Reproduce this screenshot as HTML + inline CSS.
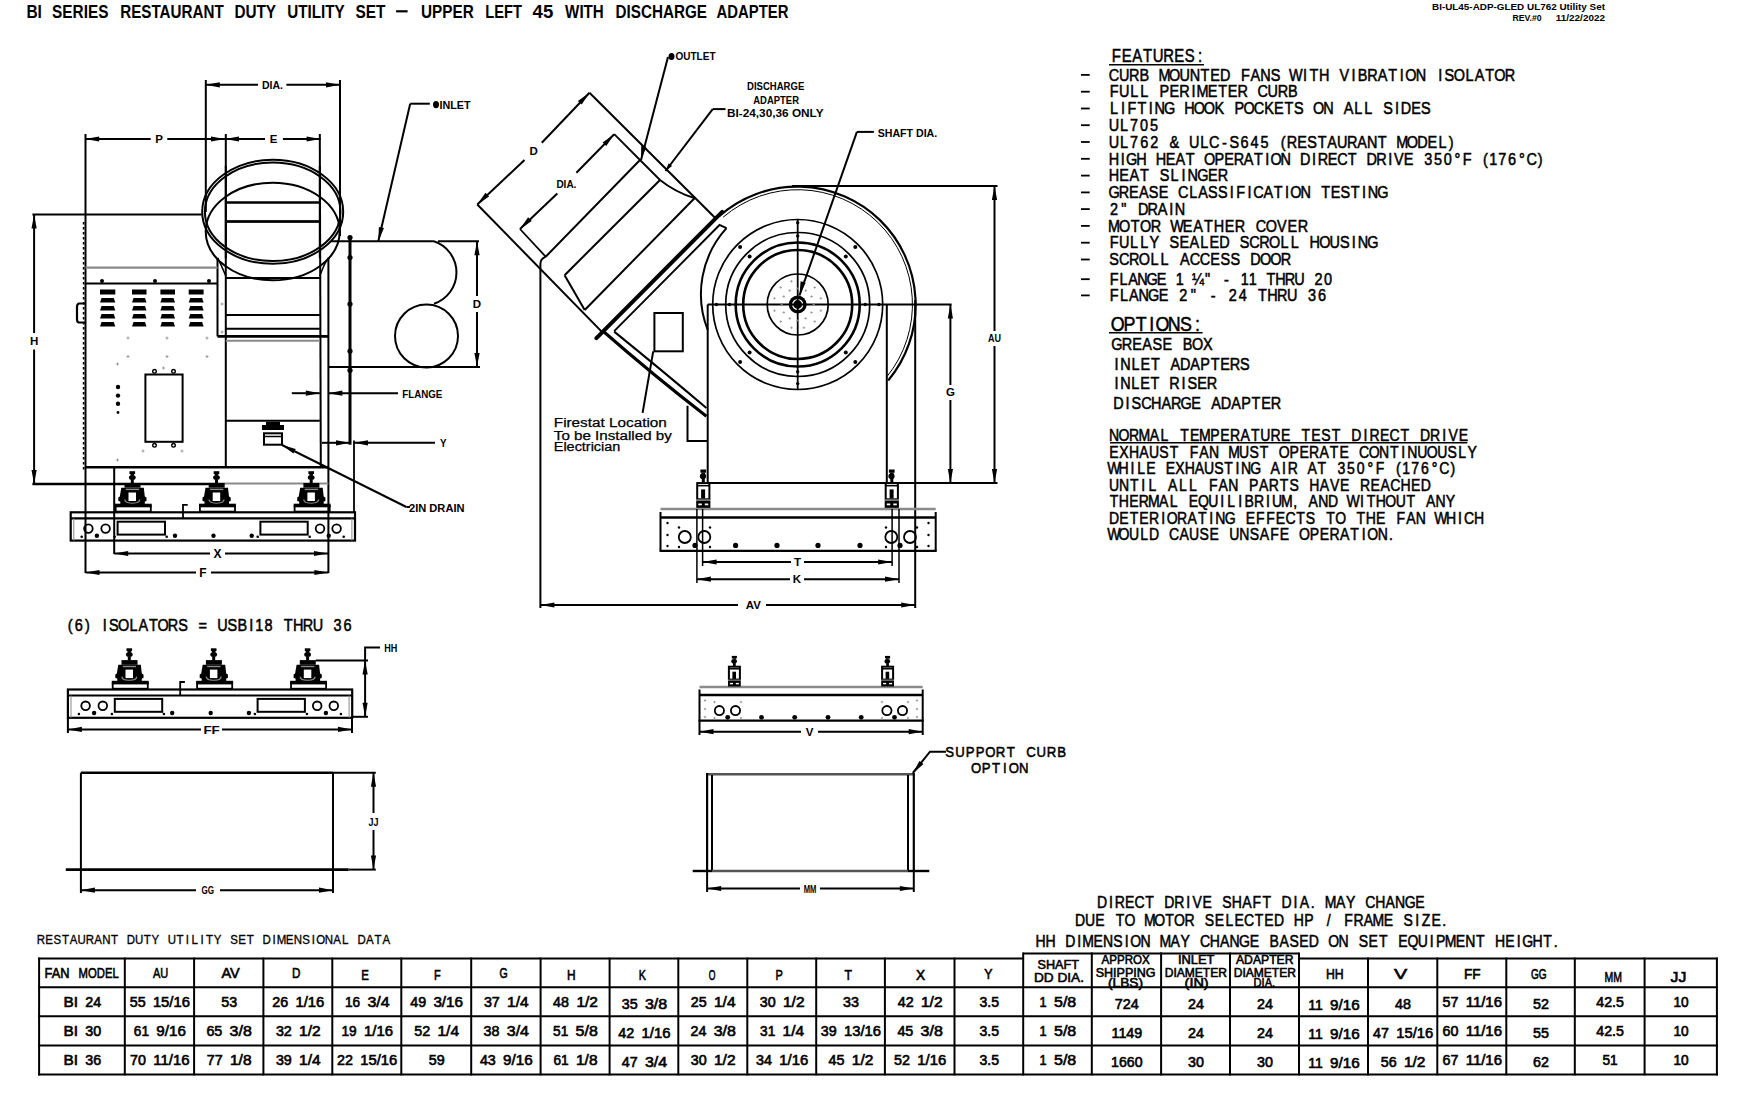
<!DOCTYPE html>
<html><head><meta charset="utf-8"><style>
html,body{margin:0;padding:0;background:#fff;width:1744px;height:1100px;overflow:hidden}
svg{display:block}
text{font-family:"Liberation Sans",sans-serif;fill:#000}
</style></head><body>
<svg width="1744" height="1100" viewBox="0 0 1744 1100" stroke-linecap="butt">
<text x="26.4" y="17.8" font-size="19" textLength="15.5" lengthAdjust="spacingAndGlyphs" font-weight="bold">BI</text>
<text x="52.1" y="17.8" font-size="19" textLength="56.3" lengthAdjust="spacingAndGlyphs" font-weight="bold">SERIES</text>
<text x="120.2" y="17.8" font-size="19" textLength="103.6" lengthAdjust="spacingAndGlyphs" font-weight="bold">RESTAURANT</text>
<text x="234.4" y="17.8" font-size="19" textLength="41.7" lengthAdjust="spacingAndGlyphs" font-weight="bold">DUTY</text>
<text x="287.2" y="17.8" font-size="19" textLength="57.5" lengthAdjust="spacingAndGlyphs" font-weight="bold">UTILITY</text>
<text x="355.6" y="17.8" font-size="19" textLength="29.9" lengthAdjust="spacingAndGlyphs" font-weight="bold">SET</text>
<line x1="396.1" y1="11.3" x2="407.6" y2="11.3" stroke="#000" stroke-width="2.2"/>
<text x="421.1" y="17.8" font-size="19" textLength="52.6" lengthAdjust="spacingAndGlyphs" font-weight="bold">UPPER</text>
<text x="485.3" y="17.8" font-size="19" textLength="36.6" lengthAdjust="spacingAndGlyphs" font-weight="bold">LEFT</text>
<text x="532.6" y="17.8" font-size="19" textLength="20.7" lengthAdjust="spacingAndGlyphs" font-weight="bold">45</text>
<text x="565.1" y="17.8" font-size="19" textLength="38.7" lengthAdjust="spacingAndGlyphs" font-weight="bold">WITH</text>
<text x="615.6" y="17.8" font-size="19" textLength="91.4" lengthAdjust="spacingAndGlyphs" font-weight="bold">DISCHARGE</text>
<text x="716.5" y="17.8" font-size="19" textLength="71.9" lengthAdjust="spacingAndGlyphs" font-weight="bold">ADAPTER</text>
<text x="1432.0" y="9.5" font-size="8.5" textLength="173.0" lengthAdjust="spacingAndGlyphs" font-weight="bold">BI-UL45-ADP-GLED UL762 Utility Set</text>
<text x="1512.4" y="21.0" font-size="8.5" textLength="29.2" lengthAdjust="spacingAndGlyphs" font-weight="bold">REV.#0</text>
<text x="1555.8" y="21.0" font-size="8.5" textLength="49.2" lengthAdjust="spacingAndGlyphs" font-weight="bold">11/22/2022</text>
<text transform="scale(0.85,1)" x="1307.83 1319.68 1332.02 1344.85 1356.21 1368.55 1381.37 1393.71 1409.45" y="62.5" font-size="17.5" stroke="#000" stroke-width="0.55">FEATURES:</text>
<line x1="1109.0" y1="64.7" x2="1204.0" y2="64.7" stroke="#000" stroke-width="1.6"/>
<text transform="scale(0.85,1)" x="1304.54 1316.42 1328.30 1340.65 1363.00 1375.35 1387.70 1399.58 1412.41 1423.81 1435.22 1459.93 1471.33 1482.74 1495.09 1516.50 1532.85 1540.71 1551.65 1575.88 1589.88 1597.26 1608.67 1621.02 1633.38 1646.90 1653.34 1665.69 1692.04 1699.43 1710.37 1724.13 1735.07 1747.42 1757.88 1770.24" y="80.7" font-size="17" stroke="#000" stroke-width="0.55">CURBMOUNTEDFANSWITHVIBRATIONISOLATOR</text>
<line x1="1081.0" y1="74.9" x2="1089.7" y2="74.9" stroke="#000" stroke-width="1.8"/>
<text transform="scale(0.85,1)" x="1305.49 1316.36 1329.60 1341.42 1364.11 1375.93 1387.29 1401.70 1407.62 1420.85 1433.15 1444.49 1455.84 1479.48 1491.30 1503.12 1515.41" y="97.5" font-size="17" stroke="#000" stroke-width="0.55">FULLPERIMETERCURB</text>
<line x1="1081.0" y1="91.7" x2="1089.7" y2="91.7" stroke="#000" stroke-width="1.8"/>
<text transform="scale(0.85,1)" x="1305.96 1318.84 1326.52 1338.20 1351.55 1358.29 1369.50 1393.34 1404.55 1416.24 1428.86 1452.23 1462.97 1475.13 1487.28 1498.96 1511.12 1522.33 1544.76 1556.91 1580.75 1593.38 1605.06 1627.49 1641.31 1648.05 1660.20 1671.88" y="114.3" font-size="17" stroke="#000" stroke-width="0.55">LIFTINGHOOKPOCKETSONALLSIDES</text>
<line x1="1081.0" y1="108.5" x2="1089.7" y2="108.5" stroke="#000" stroke-width="1.8"/>
<text transform="scale(0.85,1)" x="1304.54 1317.67 1329.39 1341.11 1352.83" y="131.0" font-size="17" stroke="#000" stroke-width="0.55">UL705</text>
<line x1="1081.0" y1="125.2" x2="1089.7" y2="125.2" stroke="#000" stroke-width="1.8"/>
<text transform="scale(0.85,1)" x="1304.54 1317.75 1329.54 1341.34 1353.13 1375.78 1398.90 1412.10 1422.49 1437.59 1446.54 1459.28 1471.07 1482.87 1506.88 1513.89 1526.15 1537.95 1550.22 1561.54 1572.86 1584.66 1596.92 1608.24 1620.99 1642.69 1654.95 1667.22 1679.48 1692.22 1704.43" y="147.8" font-size="17" stroke="#000" stroke-width="0.55">UL762&amp;ULC-S645(RESTAURANTMODEL)</text>
<line x1="1081.0" y1="142.0" x2="1089.7" y2="142.0" stroke="#000" stroke-width="1.8"/>
<text transform="scale(0.85,1)" x="1304.54 1318.65 1324.73 1336.68 1359.63 1371.58 1383.05 1395.01 1416.54 1428.96 1440.44 1451.45 1463.39 1475.35 1488.51 1494.58 1506.53 1529.49 1543.59 1550.15 1562.09 1573.10 1585.52 1607.53 1619.01 1633.11 1640.13 1651.61 1675.51 1686.98 1698.46 1711.26 1720.95 1744.83 1752.11 1762.73 1774.21 1787.01 1795.75 1809.10" y="164.6" font-size="17" stroke="#000" stroke-width="0.55">HIGHHEATOPERATIONDIRECTDRIVE350°F(176°C)</text>
<line x1="1081.0" y1="158.8" x2="1089.7" y2="158.8" stroke="#000" stroke-width="1.8"/>
<text transform="scale(0.85,1)" x="1304.54 1316.87 1328.73 1341.06 1364.29 1377.09 1390.13 1397.02 1408.41 1421.20 1432.59" y="181.4" font-size="17" stroke="#000" stroke-width="0.55">HEATSLINGER</text>
<line x1="1081.0" y1="175.6" x2="1089.7" y2="175.6" stroke="#000" stroke-width="1.8"/>
<text transform="scale(0.85,1)" x="1304.07 1316.17 1328.27 1339.90 1351.53 1363.15 1385.94 1398.98 1409.67 1421.29 1432.92 1446.69 1454.33 1467.62 1474.31 1486.41 1498.52 1511.81 1518.03 1530.13 1554.33 1565.48 1577.11 1589.21 1602.51 1609.20 1620.35" y="198.2" font-size="17" stroke="#000" stroke-width="0.55">GREASECLASSIFICATIONTESTING</text>
<line x1="1081.0" y1="192.4" x2="1089.7" y2="192.4" stroke="#000" stroke-width="1.8"/>
<text transform="scale(0.85,1)" x="1305.96 1319.06 1338.72 1350.11 1361.97 1375.53 1382.00" y="214.9" font-size="17" stroke="#000" stroke-width="0.55">2"DRAIN</text>
<line x1="1081.0" y1="209.1" x2="1089.7" y2="209.1" stroke="#000" stroke-width="1.8"/>
<text transform="scale(0.85,1)" x="1303.60 1316.41 1330.18 1341.10 1353.91 1376.71 1391.41 1403.75 1416.57 1427.97 1440.78 1452.65 1477.34 1489.21 1502.49 1514.84 1526.71" y="231.7" font-size="17" stroke="#000" stroke-width="0.55">MOTORWEATHERCOVER</text>
<line x1="1081.0" y1="225.9" x2="1089.7" y2="225.9" stroke="#000" stroke-width="1.8"/>
<text transform="scale(0.85,1)" x="1305.49 1316.35 1329.56 1341.36 1352.22 1375.83 1387.63 1399.44 1412.18 1423.04 1434.38 1458.45 1469.79 1481.59 1492.92 1506.61 1518.41 1540.60 1551.93 1564.21 1576.48 1590.41 1597.26 1608.59" y="248.5" font-size="17" stroke="#000" stroke-width="0.55">FULLYSEALEDSCROLLHOUSING</text>
<line x1="1081.0" y1="242.7" x2="1089.7" y2="242.7" stroke="#000" stroke-width="1.8"/>
<text transform="scale(0.85,1)" x="1305.01 1316.44 1328.33 1339.75 1353.52 1365.42 1388.26 1399.68 1411.57 1423.93 1435.83 1447.72 1471.03 1482.45 1494.34 1506.71" y="265.3" font-size="17" stroke="#000" stroke-width="0.55">SCROLLACCESSDOOR</text>
<line x1="1081.0" y1="259.5" x2="1089.7" y2="259.5" stroke="#000" stroke-width="1.8"/>
<text transform="scale(0.85,1)" x="1305.49 1317.11 1327.33 1338.01 1348.70 1360.79 1383.21 1402.33 1417.56 1440.05 1459.63 1469.12 1490.13 1500.34 1511.49 1522.65 1546.38 1557.53" y="285.0" font-size="17" stroke="#000" stroke-width="0.55">FLANGE1¼"-11THRU20</text>
<line x1="1081.0" y1="279.2" x2="1089.7" y2="279.2" stroke="#000" stroke-width="1.8"/>
<text transform="scale(0.85,1)" x="1305.49 1317.60 1328.30 1339.48 1350.65 1363.23 1387.46 1400.81 1424.29 1445.68 1457.32 1480.15 1490.84 1502.49 1514.13 1538.83 1550.47" y="301.2" font-size="17" stroke="#000" stroke-width="0.55">FLANGE2"-24THRU36</text>
<line x1="1081.0" y1="295.4" x2="1089.7" y2="295.4" stroke="#000" stroke-width="1.8"/>
<text transform="scale(0.85,1)" x="1306.77 1321.76 1336.17 1352.11 1359.30 1373.71 1388.11 1406.02" y="331.3" font-size="21" stroke="#000" stroke-width="0.55">OPTIONS:</text>
<line x1="1109.0" y1="332.7" x2="1202.6" y2="332.7" stroke="#000" stroke-width="1.6"/>
<text transform="scale(0.85,1)" x="1307.25 1319.62 1331.99 1343.89 1355.79 1367.69 1391.49 1402.45 1415.30" y="350.1" font-size="17" stroke="#000" stroke-width="0.55">GREASEBOX</text>
<text transform="scale(0.85,1)" x="1311.27 1318.02 1331.14 1341.90 1354.08 1377.01 1388.25 1400.42 1412.13 1424.31 1435.53 1446.77 1458.94" y="369.8" font-size="17" stroke="#000" stroke-width="0.55">INLETADAPTERS</text>
<text transform="scale(0.85,1)" x="1311.28 1317.91 1330.88 1341.50 1353.54 1375.72 1389.90 1397.00 1408.56 1419.65" y="388.9" font-size="17" stroke="#000" stroke-width="0.55">INLETRISER</text>
<text transform="scale(0.85,1)" x="1309.72 1324.05 1331.29 1342.54 1354.27 1366.46 1377.71 1388.96 1401.63 1425.07 1436.33 1448.52 1460.24 1472.44 1483.69 1494.94" y="409.1" font-size="17" stroke="#000" stroke-width="0.55">DISCHARGEADAPTER</text>
<text transform="scale(0.85,1)" x="1304.58 1316.00 1328.34 1339.31 1352.56 1365.35 1388.66 1400.08 1410.59 1423.83 1435.71 1447.14 1459.47 1471.82 1482.78 1494.66 1506.99 1531.21 1542.63 1554.51 1566.85 1589.69 1604.05 1611.08 1623.41 1634.84 1647.64 1670.48 1682.36 1696.71 1704.19 1716.07" y="441.2" font-size="16.5" stroke="#000" stroke-width="0.55">NORMALTEMPERATURETESTDIRECTDRIVE</text>
<text transform="scale(0.85,1)" x="1305.04 1316.81 1328.13 1340.36 1351.68 1363.91 1376.15 1399.69 1411.00 1422.32 1444.96 1457.64 1469.87 1482.11 1504.28 1516.97 1528.74 1540.06 1552.29 1564.53 1575.84 1598.93 1610.25 1622.48 1635.17 1648.51 1655.45 1667.22 1678.53 1690.77 1703.00 1715.68 1726.54" y="457.8" font-size="16.5" stroke="#000" stroke-width="0.55">EXHAUSTFANMUSTOPERATECONTINUOUSLY</text>
<text transform="scale(0.85,1)" x="1302.75 1316.01 1329.96 1337.95 1348.47 1371.33 1382.75 1393.73 1405.61 1416.59 1428.47 1440.36 1453.40 1460.02 1470.99 1494.76 1508.25 1514.87 1538.19 1550.08 1573.39 1584.82 1596.25 1608.96 1618.65 1642.37 1649.68 1660.25 1671.68 1684.39 1693.16 1706.38" y="474.3" font-size="16.5" stroke="#000" stroke-width="0.55">WHILEEXHAUSTINGAIRAT350°F(176°C)</text>
<text transform="scale(0.85,1)" x="1304.58 1316.49 1329.32 1342.79 1351.21 1374.11 1386.93 1398.84 1422.21 1433.66 1445.11 1469.38 1481.29 1492.75 1505.57 1517.02 1540.38 1552.75 1564.66 1576.57 1599.93 1612.29 1624.20 1635.66 1647.57 1659.93 1671.38" y="490.9" font-size="16.5" stroke="#000" stroke-width="0.55">UNTILALLFANPARTSHAVEREACHED</text>
<text transform="scale(0.85,1)" x="1305.50 1316.28 1328.43 1339.67 1350.45 1363.51 1376.12 1398.59 1409.37 1421.53 1435.72 1443.95 1456.77 1464.08 1475.32 1489.51 1496.37 1507.15 1521.38 1539.51 1550.75 1562.45 1584.01 1600.03 1607.80 1618.58 1629.82 1641.97 1654.58 1677.51 1688.75 1700.90" y="507.4" font-size="16.5" stroke="#000" stroke-width="0.55">THERMALEQUILIBRIUM,ANDWITHOUTANY</text>
<text transform="scale(0.85,1)" x="1304.58 1316.84 1329.10 1340.44 1351.78 1366.07 1372.56 1384.82 1397.08 1409.34 1422.71 1429.66 1441.00 1465.51 1477.78 1489.58 1500.91 1512.26 1524.97 1536.31 1560.37 1570.80 1595.77 1606.65 1618.91 1642.97 1654.31 1665.65 1687.42 1701.05 1715.34 1722.29 1734.09" y="524.0" font-size="16.5" stroke="#000" stroke-width="0.55">DETERIORATINGEFFECTSTOTHEFANWHICH</text>
<text transform="scale(0.85,1)" x="1302.75 1315.92 1328.18 1341.35 1351.78 1375.37 1387.63 1398.97 1411.22 1423.02 1446.16 1457.96 1470.21 1482.01 1494.27 1505.61 1528.29 1541.00 1552.80 1564.14 1576.40 1588.66 1602.02 1608.52 1620.77 1634.17" y="540.5" font-size="16.5" stroke="#000" stroke-width="0.55">WOULDCAUSEUNSAFEOPERATION.</text>
<line x1="1110.0" y1="442.8" x2="1467.3" y2="442.8" stroke="#000" stroke-width="1.6"/>
<text transform="scale(0.85,1)" x="1290.47 1304.64 1311.48 1323.61 1334.83 1347.43 1369.86 1381.54 1395.71 1403.01 1414.69 1438.04 1449.26 1461.39 1473.53 1485.20 1507.64 1521.81 1529.11 1541.95 1558.68 1571.73 1583.40 1606.30 1617.97 1630.10 1641.33 1652.54 1665.13" y="908.3" font-size="16.5" stroke="#000" stroke-width="0.55">DIRECTDRIVESHAFTDIA.MAYCHANGE</text>
<text transform="scale(0.85,1)" x="1264.82 1276.51 1288.67 1312.52 1322.84 1345.78 1357.93 1371.00 1381.32 1393.48 1417.33 1429.02 1441.63 1452.41 1463.66 1476.27 1487.50 1498.74 1522.14 1534.29 1560.89 1581.54 1592.31 1604.47 1614.79 1627.86 1651.25 1664.99 1672.77 1684.00 1696.86" y="926.3" font-size="16.5" stroke="#000" stroke-width="0.55">DUETOMOTORSELECTEDHP/FRAMESIZE.</text>
<text transform="scale(0.85,1)" x="1218.35 1229.99 1253.29 1267.43 1273.34 1286.35 1297.54 1309.64 1323.34 1329.69 1341.80 1364.18 1377.19 1388.84 1411.68 1423.32 1435.42 1446.61 1457.80 1470.36 1493.66 1505.30 1516.95 1528.59 1539.78 1562.62 1574.72 1598.47 1610.12 1622.23 1645.06 1655.79 1667.89 1682.04 1689.31 1699.59 1712.60 1723.80 1736.36 1758.73 1770.84 1784.53 1790.88 1802.99 1815.56 1827.91" y="946.8" font-size="16.5" stroke="#000" stroke-width="0.55">HHDIMENSIONMAYCHANGEBASEDONSETEQUIPMENTHEIGHT.</text>
<text transform="scale(0.85,1)" x="79.57 87.85 99.92 121.03 128.19 138.87 152.38 163.07 175.17 185.38 197.48 209.58 233.54 255.62 267.72 279.34 293.12 300.34 311.10 333.89 344.57 356.20 367.83 392.49 404.12" y="631.4" font-size="17" stroke="#000" stroke-width="0.55">(6)ISOLATORS=USBI18THRU36</text>
<text transform="scale(0.85,1)" x="1112.15 1123.68 1136.08 1148.04 1159.14 1171.54 1184.37 1207.43 1219.39 1231.36 1243.75" y="757.4" font-size="15.5" stroke="#000" stroke-width="0.55">SUPPORTCURB</text>
<text transform="scale(0.85,1)" x="1142.35 1154.89 1167.01 1180.10 1186.74 1198.85" y="772.6" font-size="15.5" stroke="#000" stroke-width="0.55">OPTION</text>
<text transform="scale(0.85,1)" x="43.18 53.19 62.82 72.82 82.07 91.33 100.96 110.96 120.22 130.60 149.11 158.73 169.12 178.37 197.25 207.63 218.55 225.33 235.88 242.30 251.55 270.81 280.44 290.44 308.95 320.62 325.53 336.28 345.54 355.54 366.84 372.13 382.13 392.13 402.51 420.65 430.65 440.66 449.91" y="943.8" font-size="13.5" stroke="#000" stroke-width="0.35">RESTAURANTDUTYUTILITYSETDIMENSIONALDATA</text>
<line x1="38.1" y1="958.6" x2="1023.2" y2="958.6" stroke="#000" stroke-width="2.0"/>
<line x1="1023.2" y1="953.4" x2="1299.0" y2="953.4" stroke="#000" stroke-width="2.0"/>
<line x1="1299.0" y1="958.6" x2="1717.9" y2="958.6" stroke="#000" stroke-width="2.0"/>
<line x1="38.1" y1="987.2" x2="1717.9" y2="987.2" stroke="#000" stroke-width="2.0"/>
<line x1="38.1" y1="1016.3" x2="1717.9" y2="1016.3" stroke="#000" stroke-width="2.0"/>
<line x1="38.1" y1="1045.4" x2="1717.9" y2="1045.4" stroke="#000" stroke-width="2.0"/>
<line x1="38.1" y1="1074.4" x2="1717.9" y2="1074.4" stroke="#000" stroke-width="2.0"/>
<line x1="39.1" y1="957.6" x2="39.1" y2="1075.4" stroke="#000" stroke-width="2.0"/>
<line x1="124.8" y1="957.6" x2="124.8" y2="1075.4" stroke="#000" stroke-width="2.0"/>
<line x1="194.1" y1="957.6" x2="194.1" y2="1075.4" stroke="#000" stroke-width="2.0"/>
<line x1="263.4" y1="957.6" x2="263.4" y2="1075.4" stroke="#000" stroke-width="2.0"/>
<line x1="332.3" y1="957.6" x2="332.3" y2="1075.4" stroke="#000" stroke-width="2.0"/>
<line x1="401.3" y1="957.6" x2="401.3" y2="1075.4" stroke="#000" stroke-width="2.0"/>
<line x1="471.2" y1="957.6" x2="471.2" y2="1075.4" stroke="#000" stroke-width="2.0"/>
<line x1="540.6" y1="957.6" x2="540.6" y2="1075.4" stroke="#000" stroke-width="2.0"/>
<line x1="609.6" y1="957.6" x2="609.6" y2="1075.4" stroke="#000" stroke-width="2.0"/>
<line x1="678.3" y1="957.6" x2="678.3" y2="1075.4" stroke="#000" stroke-width="2.0"/>
<line x1="747.3" y1="957.6" x2="747.3" y2="1075.4" stroke="#000" stroke-width="2.0"/>
<line x1="816.2" y1="957.6" x2="816.2" y2="1075.4" stroke="#000" stroke-width="2.0"/>
<line x1="884.9" y1="957.6" x2="884.9" y2="1075.4" stroke="#000" stroke-width="2.0"/>
<line x1="954.5" y1="957.6" x2="954.5" y2="1075.4" stroke="#000" stroke-width="2.0"/>
<line x1="1023.2" y1="952.4" x2="1023.2" y2="1075.4" stroke="#000" stroke-width="2.0"/>
<line x1="1091.8" y1="952.4" x2="1091.8" y2="1075.4" stroke="#000" stroke-width="2.0"/>
<line x1="1161.1" y1="952.4" x2="1161.1" y2="1075.4" stroke="#000" stroke-width="2.0"/>
<line x1="1230.0" y1="952.4" x2="1230.0" y2="1075.4" stroke="#000" stroke-width="2.0"/>
<line x1="1299.0" y1="952.4" x2="1299.0" y2="1075.4" stroke="#000" stroke-width="2.0"/>
<line x1="1368.0" y1="957.6" x2="1368.0" y2="1075.4" stroke="#000" stroke-width="2.0"/>
<line x1="1437.3" y1="957.6" x2="1437.3" y2="1075.4" stroke="#000" stroke-width="2.0"/>
<line x1="1506.3" y1="957.6" x2="1506.3" y2="1075.4" stroke="#000" stroke-width="2.0"/>
<line x1="1574.8" y1="957.6" x2="1574.8" y2="1075.4" stroke="#000" stroke-width="2.0"/>
<line x1="1644.6" y1="957.6" x2="1644.6" y2="1075.4" stroke="#000" stroke-width="2.0"/>
<line x1="1716.9" y1="957.6" x2="1716.9" y2="1075.4" stroke="#000" stroke-width="2.0"/>
<text x="44.6" y="978.4" font-size="14" textLength="24.9" lengthAdjust="spacingAndGlyphs" stroke="#000" stroke-width="0.6">FAN</text>
<text x="78.6" y="978.4" font-size="14" textLength="40.1" lengthAdjust="spacingAndGlyphs" stroke="#000" stroke-width="0.6">MODEL</text>
<text x="153.0" y="978.4" font-size="14" textLength="15.3" lengthAdjust="spacingAndGlyphs" stroke="#000" stroke-width="0.6">AU</text>
<text x="221.4" y="978.4" font-size="14" textLength="18.3" lengthAdjust="spacingAndGlyphs" stroke="#000" stroke-width="0.6">AV</text>
<text x="292.0" y="978.4" font-size="14" textLength="8.4" lengthAdjust="spacingAndGlyphs" stroke="#000" stroke-width="0.6">D</text>
<text x="361.2" y="979.5" font-size="14" textLength="7.6" lengthAdjust="spacingAndGlyphs" stroke="#000" stroke-width="0.6">E</text>
<text x="434.1" y="979.5" font-size="14" textLength="6.7" lengthAdjust="spacingAndGlyphs" stroke="#000" stroke-width="0.6">F</text>
<text x="499.5" y="978.4" font-size="14" textLength="8.2" lengthAdjust="spacingAndGlyphs" stroke="#000" stroke-width="0.6">G</text>
<text x="567.0" y="980.0" font-size="14" textLength="8.6" lengthAdjust="spacingAndGlyphs" stroke="#000" stroke-width="0.6">H</text>
<text x="638.8" y="980.0" font-size="14" textLength="7.2" lengthAdjust="spacingAndGlyphs" stroke="#000" stroke-width="0.6">K</text>
<text x="708.7" y="980.0" font-size="14" textLength="6.7" lengthAdjust="spacingAndGlyphs" stroke="#000" stroke-width="0.6">O</text>
<text x="775.5" y="980.0" font-size="14" textLength="7.3" lengthAdjust="spacingAndGlyphs" stroke="#000" stroke-width="0.6">P</text>
<text x="844.5" y="980.0" font-size="14" textLength="7.5" lengthAdjust="spacingAndGlyphs" stroke="#000" stroke-width="0.6">T</text>
<text x="915.9" y="980.0" font-size="14" textLength="9.1" lengthAdjust="spacingAndGlyphs" stroke="#000" stroke-width="0.6">X</text>
<text x="984.3" y="978.5" font-size="14" textLength="8.2" lengthAdjust="spacingAndGlyphs" stroke="#000" stroke-width="0.6">Y</text>
<text x="1325.9" y="978.8" font-size="14" textLength="17.7" lengthAdjust="spacingAndGlyphs" stroke="#000" stroke-width="0.6">HH</text>
<text x="1394.0" y="978.8" font-size="14" textLength="13.2" lengthAdjust="spacingAndGlyphs" stroke="#000" stroke-width="0.6">V</text>
<text x="1464.0" y="978.8" font-size="14" textLength="16.7" lengthAdjust="spacingAndGlyphs" stroke="#000" stroke-width="0.6">FF</text>
<text x="1531.0" y="978.8" font-size="14" textLength="15.7" lengthAdjust="spacingAndGlyphs" stroke="#000" stroke-width="0.6">GG</text>
<text x="1604.5" y="981.5" font-size="14" textLength="17.5" lengthAdjust="spacingAndGlyphs" stroke="#000" stroke-width="0.6">MM</text>
<text x="1670.6" y="981.5" font-size="14" textLength="15.7" lengthAdjust="spacingAndGlyphs" stroke="#000" stroke-width="0.6">JJ</text>
<text x="1037.5" y="968.6" font-size="13.5" textLength="41.5" lengthAdjust="spacingAndGlyphs" stroke="#000" stroke-width="0.6">SHAFT</text>
<text x="1034.0" y="981.9" font-size="13.5" textLength="50.0" lengthAdjust="spacingAndGlyphs" stroke="#000" stroke-width="0.6">DD DIA.</text>
<text x="1101.5" y="964.1" font-size="12.5" textLength="48.2" lengthAdjust="spacingAndGlyphs" stroke="#000" stroke-width="0.6">APPROX</text>
<text x="1095.7" y="976.6" font-size="12.5" textLength="59.8" lengthAdjust="spacingAndGlyphs" stroke="#000" stroke-width="0.6">SHIPPING</text>
<text x="1108.0" y="986.5" font-size="12.5" textLength="35.0" lengthAdjust="spacingAndGlyphs" stroke="#000" stroke-width="0.6">(LBS)</text>
<text x="1178.0" y="964.1" font-size="12.5" textLength="36.5" lengthAdjust="spacingAndGlyphs" stroke="#000" stroke-width="0.6">INLET</text>
<text x="1164.7" y="976.6" font-size="12.5" textLength="62.3" lengthAdjust="spacingAndGlyphs" stroke="#000" stroke-width="0.6">DIAMETER</text>
<text x="1184.6" y="986.5" font-size="12.5" textLength="24.1" lengthAdjust="spacingAndGlyphs" stroke="#000" stroke-width="0.6">(IN)</text>
<text x="1236.0" y="964.1" font-size="12.5" textLength="57.5" lengthAdjust="spacingAndGlyphs" stroke="#000" stroke-width="0.6">ADAPTER</text>
<text x="1233.7" y="976.6" font-size="12.5" textLength="62.3" lengthAdjust="spacingAndGlyphs" stroke="#000" stroke-width="0.6">DIAMETER</text>
<text x="1253.6" y="986.5" font-size="12.5" textLength="21.6" lengthAdjust="spacingAndGlyphs" stroke="#000" stroke-width="0.6">DIA.</text>
<text x="63.5" y="1007.0" font-size="14" textLength="14.5" lengthAdjust="spacingAndGlyphs" stroke="#000" stroke-width="0.6">BI</text>
<text x="85.3" y="1007.0" font-size="14" textLength="15.9" lengthAdjust="spacingAndGlyphs" stroke="#000" stroke-width="0.6">24</text>
<text x="129.8" y="1007.0" font-size="14" textLength="15.9" lengthAdjust="spacingAndGlyphs" stroke="#000" stroke-width="0.6">55</text>
<text x="152.9" y="1007.0" font-size="14" textLength="37.0" lengthAdjust="spacingAndGlyphs" stroke="#000" stroke-width="0.6">15/16</text>
<text x="221.2" y="1007.0" font-size="14" textLength="15.9" lengthAdjust="spacingAndGlyphs" stroke="#000" stroke-width="0.6">53</text>
<text x="272.2" y="1007.0" font-size="14" textLength="15.9" lengthAdjust="spacingAndGlyphs" stroke="#000" stroke-width="0.6">26</text>
<text x="295.4" y="1007.0" font-size="14" textLength="28.9" lengthAdjust="spacingAndGlyphs" stroke="#000" stroke-width="0.6">1/16</text>
<text x="344.9" y="1007.0" font-size="14" textLength="15.2" lengthAdjust="spacingAndGlyphs" stroke="#000" stroke-width="0.6">16</text>
<text x="367.4" y="1007.0" font-size="14" textLength="22.2" lengthAdjust="spacingAndGlyphs" stroke="#000" stroke-width="0.6">3/4</text>
<text x="410.2" y="1007.0" font-size="14" textLength="15.9" lengthAdjust="spacingAndGlyphs" stroke="#000" stroke-width="0.6">49</text>
<text x="433.4" y="1007.0" font-size="14" textLength="29.6" lengthAdjust="spacingAndGlyphs" stroke="#000" stroke-width="0.6">3/16</text>
<text x="483.9" y="1007.0" font-size="14" textLength="15.9" lengthAdjust="spacingAndGlyphs" stroke="#000" stroke-width="0.6">37</text>
<text x="507.1" y="1007.0" font-size="14" textLength="21.5" lengthAdjust="spacingAndGlyphs" stroke="#000" stroke-width="0.6">1/4</text>
<text x="553.1" y="1007.0" font-size="14" textLength="15.9" lengthAdjust="spacingAndGlyphs" stroke="#000" stroke-width="0.6">48</text>
<text x="576.4" y="1007.0" font-size="14" textLength="21.5" lengthAdjust="spacingAndGlyphs" stroke="#000" stroke-width="0.6">1/2</text>
<text x="621.7" y="1009.0" font-size="14" textLength="15.9" lengthAdjust="spacingAndGlyphs" stroke="#000" stroke-width="0.6">35</text>
<text x="644.9" y="1009.0" font-size="14" textLength="22.2" lengthAdjust="spacingAndGlyphs" stroke="#000" stroke-width="0.6">3/8</text>
<text x="690.8" y="1007.0" font-size="14" textLength="15.9" lengthAdjust="spacingAndGlyphs" stroke="#000" stroke-width="0.6">25</text>
<text x="714.0" y="1007.0" font-size="14" textLength="21.5" lengthAdjust="spacingAndGlyphs" stroke="#000" stroke-width="0.6">1/4</text>
<text x="759.8" y="1007.0" font-size="14" textLength="15.9" lengthAdjust="spacingAndGlyphs" stroke="#000" stroke-width="0.6">30</text>
<text x="783.0" y="1007.0" font-size="14" textLength="21.5" lengthAdjust="spacingAndGlyphs" stroke="#000" stroke-width="0.6">1/2</text>
<text x="843.0" y="1007.0" font-size="14" textLength="15.9" lengthAdjust="spacingAndGlyphs" stroke="#000" stroke-width="0.6">33</text>
<text x="897.8" y="1007.0" font-size="14" textLength="15.9" lengthAdjust="spacingAndGlyphs" stroke="#000" stroke-width="0.6">42</text>
<text x="921.0" y="1007.0" font-size="14" textLength="21.5" lengthAdjust="spacingAndGlyphs" stroke="#000" stroke-width="0.6">1/2</text>
<text x="979.5" y="1007.0" font-size="14" textLength="19.5" lengthAdjust="spacingAndGlyphs" stroke="#000" stroke-width="0.6">3.5</text>
<text x="1039.6" y="1007.0" font-size="14" textLength="7.1" lengthAdjust="spacingAndGlyphs" stroke="#000" stroke-width="0.6">1</text>
<text x="1054.0" y="1007.0" font-size="14" textLength="22.2" lengthAdjust="spacingAndGlyphs" stroke="#000" stroke-width="0.6">5/8</text>
<text x="1114.8" y="1008.5" font-size="14" textLength="24.0" lengthAdjust="spacingAndGlyphs" stroke="#000" stroke-width="0.6">724</text>
<text x="1188.0" y="1009.0" font-size="14" textLength="15.9" lengthAdjust="spacingAndGlyphs" stroke="#000" stroke-width="0.6">24</text>
<text x="1257.0" y="1009.0" font-size="14" textLength="15.9" lengthAdjust="spacingAndGlyphs" stroke="#000" stroke-width="0.6">24</text>
<text x="1308.2" y="1009.5" font-size="14" textLength="14.5" lengthAdjust="spacingAndGlyphs" stroke="#000" stroke-width="0.6">11</text>
<text x="1330.0" y="1009.5" font-size="14" textLength="29.6" lengthAdjust="spacingAndGlyphs" stroke="#000" stroke-width="0.6">9/16</text>
<text x="1395.1" y="1008.5" font-size="14" textLength="15.9" lengthAdjust="spacingAndGlyphs" stroke="#000" stroke-width="0.6">48</text>
<text x="1442.5" y="1007.0" font-size="14" textLength="15.9" lengthAdjust="spacingAndGlyphs" stroke="#000" stroke-width="0.6">57</text>
<text x="1465.7" y="1007.0" font-size="14" textLength="36.3" lengthAdjust="spacingAndGlyphs" stroke="#000" stroke-width="0.6">11/16</text>
<text x="1533.0" y="1009.0" font-size="14" textLength="15.9" lengthAdjust="spacingAndGlyphs" stroke="#000" stroke-width="0.6">52</text>
<text x="1596.3" y="1007.0" font-size="14" textLength="27.6" lengthAdjust="spacingAndGlyphs" stroke="#000" stroke-width="0.6">42.5</text>
<text x="1673.5" y="1007.0" font-size="14" textLength="15.2" lengthAdjust="spacingAndGlyphs" stroke="#000" stroke-width="0.6">10</text>
<text x="63.5" y="1036.0" font-size="14" textLength="14.5" lengthAdjust="spacingAndGlyphs" stroke="#000" stroke-width="0.6">BI</text>
<text x="85.3" y="1036.0" font-size="14" textLength="15.9" lengthAdjust="spacingAndGlyphs" stroke="#000" stroke-width="0.6">30</text>
<text x="133.8" y="1036.0" font-size="14" textLength="15.2" lengthAdjust="spacingAndGlyphs" stroke="#000" stroke-width="0.6">61</text>
<text x="156.3" y="1036.0" font-size="14" textLength="29.6" lengthAdjust="spacingAndGlyphs" stroke="#000" stroke-width="0.6">9/16</text>
<text x="206.4" y="1036.0" font-size="14" textLength="15.9" lengthAdjust="spacingAndGlyphs" stroke="#000" stroke-width="0.6">65</text>
<text x="229.6" y="1036.0" font-size="14" textLength="22.2" lengthAdjust="spacingAndGlyphs" stroke="#000" stroke-width="0.6">3/8</text>
<text x="275.9" y="1036.0" font-size="14" textLength="15.9" lengthAdjust="spacingAndGlyphs" stroke="#000" stroke-width="0.6">32</text>
<text x="299.1" y="1036.0" font-size="14" textLength="21.5" lengthAdjust="spacingAndGlyphs" stroke="#000" stroke-width="0.6">1/2</text>
<text x="341.5" y="1036.0" font-size="14" textLength="15.2" lengthAdjust="spacingAndGlyphs" stroke="#000" stroke-width="0.6">19</text>
<text x="364.0" y="1036.0" font-size="14" textLength="28.9" lengthAdjust="spacingAndGlyphs" stroke="#000" stroke-width="0.6">1/16</text>
<text x="414.3" y="1036.0" font-size="14" textLength="15.9" lengthAdjust="spacingAndGlyphs" stroke="#000" stroke-width="0.6">52</text>
<text x="437.5" y="1036.0" font-size="14" textLength="21.5" lengthAdjust="spacingAndGlyphs" stroke="#000" stroke-width="0.6">1/4</text>
<text x="483.6" y="1036.0" font-size="14" textLength="15.9" lengthAdjust="spacingAndGlyphs" stroke="#000" stroke-width="0.6">38</text>
<text x="506.8" y="1036.0" font-size="14" textLength="22.2" lengthAdjust="spacingAndGlyphs" stroke="#000" stroke-width="0.6">3/4</text>
<text x="553.1" y="1036.0" font-size="14" textLength="15.2" lengthAdjust="spacingAndGlyphs" stroke="#000" stroke-width="0.6">51</text>
<text x="575.6" y="1036.0" font-size="14" textLength="22.2" lengthAdjust="spacingAndGlyphs" stroke="#000" stroke-width="0.6">5/8</text>
<text x="618.3" y="1038.0" font-size="14" textLength="15.9" lengthAdjust="spacingAndGlyphs" stroke="#000" stroke-width="0.6">42</text>
<text x="641.5" y="1038.0" font-size="14" textLength="28.9" lengthAdjust="spacingAndGlyphs" stroke="#000" stroke-width="0.6">1/16</text>
<text x="690.5" y="1036.0" font-size="14" textLength="15.9" lengthAdjust="spacingAndGlyphs" stroke="#000" stroke-width="0.6">24</text>
<text x="713.7" y="1036.0" font-size="14" textLength="22.2" lengthAdjust="spacingAndGlyphs" stroke="#000" stroke-width="0.6">3/8</text>
<text x="760.1" y="1036.0" font-size="14" textLength="15.2" lengthAdjust="spacingAndGlyphs" stroke="#000" stroke-width="0.6">31</text>
<text x="782.6" y="1036.0" font-size="14" textLength="21.5" lengthAdjust="spacingAndGlyphs" stroke="#000" stroke-width="0.6">1/4</text>
<text x="820.8" y="1036.0" font-size="14" textLength="15.9" lengthAdjust="spacingAndGlyphs" stroke="#000" stroke-width="0.6">39</text>
<text x="844.0" y="1036.0" font-size="14" textLength="37.0" lengthAdjust="spacingAndGlyphs" stroke="#000" stroke-width="0.6">13/16</text>
<text x="897.4" y="1036.0" font-size="14" textLength="15.9" lengthAdjust="spacingAndGlyphs" stroke="#000" stroke-width="0.6">45</text>
<text x="920.6" y="1036.0" font-size="14" textLength="22.2" lengthAdjust="spacingAndGlyphs" stroke="#000" stroke-width="0.6">3/8</text>
<text x="979.5" y="1036.0" font-size="14" textLength="19.5" lengthAdjust="spacingAndGlyphs" stroke="#000" stroke-width="0.6">3.5</text>
<text x="1039.6" y="1036.0" font-size="14" textLength="7.1" lengthAdjust="spacingAndGlyphs" stroke="#000" stroke-width="0.6">1</text>
<text x="1054.0" y="1036.0" font-size="14" textLength="22.2" lengthAdjust="spacingAndGlyphs" stroke="#000" stroke-width="0.6">5/8</text>
<text x="1111.5" y="1037.5" font-size="14" textLength="30.7" lengthAdjust="spacingAndGlyphs" stroke="#000" stroke-width="0.6">1149</text>
<text x="1188.0" y="1038.0" font-size="14" textLength="15.9" lengthAdjust="spacingAndGlyphs" stroke="#000" stroke-width="0.6">24</text>
<text x="1257.0" y="1038.0" font-size="14" textLength="15.9" lengthAdjust="spacingAndGlyphs" stroke="#000" stroke-width="0.6">24</text>
<text x="1308.2" y="1038.5" font-size="14" textLength="14.5" lengthAdjust="spacingAndGlyphs" stroke="#000" stroke-width="0.6">11</text>
<text x="1330.0" y="1038.5" font-size="14" textLength="29.6" lengthAdjust="spacingAndGlyphs" stroke="#000" stroke-width="0.6">9/16</text>
<text x="1373.0" y="1037.5" font-size="14" textLength="15.9" lengthAdjust="spacingAndGlyphs" stroke="#000" stroke-width="0.6">47</text>
<text x="1396.2" y="1037.5" font-size="14" textLength="37.0" lengthAdjust="spacingAndGlyphs" stroke="#000" stroke-width="0.6">15/16</text>
<text x="1442.5" y="1036.0" font-size="14" textLength="15.9" lengthAdjust="spacingAndGlyphs" stroke="#000" stroke-width="0.6">60</text>
<text x="1465.7" y="1036.0" font-size="14" textLength="36.3" lengthAdjust="spacingAndGlyphs" stroke="#000" stroke-width="0.6">11/16</text>
<text x="1533.0" y="1038.0" font-size="14" textLength="15.9" lengthAdjust="spacingAndGlyphs" stroke="#000" stroke-width="0.6">55</text>
<text x="1596.3" y="1036.0" font-size="14" textLength="27.6" lengthAdjust="spacingAndGlyphs" stroke="#000" stroke-width="0.6">42.5</text>
<text x="1673.5" y="1036.0" font-size="14" textLength="15.2" lengthAdjust="spacingAndGlyphs" stroke="#000" stroke-width="0.6">10</text>
<text x="63.5" y="1065.1" font-size="14" textLength="14.5" lengthAdjust="spacingAndGlyphs" stroke="#000" stroke-width="0.6">BI</text>
<text x="85.3" y="1065.1" font-size="14" textLength="15.9" lengthAdjust="spacingAndGlyphs" stroke="#000" stroke-width="0.6">36</text>
<text x="130.1" y="1065.1" font-size="14" textLength="15.9" lengthAdjust="spacingAndGlyphs" stroke="#000" stroke-width="0.6">70</text>
<text x="153.3" y="1065.1" font-size="14" textLength="36.3" lengthAdjust="spacingAndGlyphs" stroke="#000" stroke-width="0.6">11/16</text>
<text x="206.8" y="1065.1" font-size="14" textLength="15.9" lengthAdjust="spacingAndGlyphs" stroke="#000" stroke-width="0.6">77</text>
<text x="230.0" y="1065.1" font-size="14" textLength="21.5" lengthAdjust="spacingAndGlyphs" stroke="#000" stroke-width="0.6">1/8</text>
<text x="275.9" y="1065.1" font-size="14" textLength="15.9" lengthAdjust="spacingAndGlyphs" stroke="#000" stroke-width="0.6">39</text>
<text x="299.1" y="1065.1" font-size="14" textLength="21.5" lengthAdjust="spacingAndGlyphs" stroke="#000" stroke-width="0.6">1/4</text>
<text x="337.1" y="1065.1" font-size="14" textLength="15.9" lengthAdjust="spacingAndGlyphs" stroke="#000" stroke-width="0.6">22</text>
<text x="360.3" y="1065.1" font-size="14" textLength="37.0" lengthAdjust="spacingAndGlyphs" stroke="#000" stroke-width="0.6">15/16</text>
<text x="428.7" y="1065.1" font-size="14" textLength="15.9" lengthAdjust="spacingAndGlyphs" stroke="#000" stroke-width="0.6">59</text>
<text x="479.9" y="1065.1" font-size="14" textLength="15.9" lengthAdjust="spacingAndGlyphs" stroke="#000" stroke-width="0.6">43</text>
<text x="503.1" y="1065.1" font-size="14" textLength="29.6" lengthAdjust="spacingAndGlyphs" stroke="#000" stroke-width="0.6">9/16</text>
<text x="553.5" y="1065.1" font-size="14" textLength="15.2" lengthAdjust="spacingAndGlyphs" stroke="#000" stroke-width="0.6">61</text>
<text x="576.0" y="1065.1" font-size="14" textLength="21.5" lengthAdjust="spacingAndGlyphs" stroke="#000" stroke-width="0.6">1/8</text>
<text x="621.7" y="1067.1" font-size="14" textLength="15.9" lengthAdjust="spacingAndGlyphs" stroke="#000" stroke-width="0.6">47</text>
<text x="644.9" y="1067.1" font-size="14" textLength="22.2" lengthAdjust="spacingAndGlyphs" stroke="#000" stroke-width="0.6">3/4</text>
<text x="690.8" y="1065.1" font-size="14" textLength="15.9" lengthAdjust="spacingAndGlyphs" stroke="#000" stroke-width="0.6">30</text>
<text x="714.0" y="1065.1" font-size="14" textLength="21.5" lengthAdjust="spacingAndGlyphs" stroke="#000" stroke-width="0.6">1/2</text>
<text x="756.1" y="1065.1" font-size="14" textLength="15.9" lengthAdjust="spacingAndGlyphs" stroke="#000" stroke-width="0.6">34</text>
<text x="779.3" y="1065.1" font-size="14" textLength="28.9" lengthAdjust="spacingAndGlyphs" stroke="#000" stroke-width="0.6">1/16</text>
<text x="828.6" y="1065.1" font-size="14" textLength="15.9" lengthAdjust="spacingAndGlyphs" stroke="#000" stroke-width="0.6">45</text>
<text x="851.8" y="1065.1" font-size="14" textLength="21.5" lengthAdjust="spacingAndGlyphs" stroke="#000" stroke-width="0.6">1/2</text>
<text x="894.1" y="1065.1" font-size="14" textLength="15.9" lengthAdjust="spacingAndGlyphs" stroke="#000" stroke-width="0.6">52</text>
<text x="917.3" y="1065.1" font-size="14" textLength="28.9" lengthAdjust="spacingAndGlyphs" stroke="#000" stroke-width="0.6">1/16</text>
<text x="979.5" y="1065.1" font-size="14" textLength="19.5" lengthAdjust="spacingAndGlyphs" stroke="#000" stroke-width="0.6">3.5</text>
<text x="1039.6" y="1065.1" font-size="14" textLength="7.1" lengthAdjust="spacingAndGlyphs" stroke="#000" stroke-width="0.6">1</text>
<text x="1054.0" y="1065.1" font-size="14" textLength="22.2" lengthAdjust="spacingAndGlyphs" stroke="#000" stroke-width="0.6">5/8</text>
<text x="1111.1" y="1066.6" font-size="14" textLength="31.4" lengthAdjust="spacingAndGlyphs" stroke="#000" stroke-width="0.6">1660</text>
<text x="1188.0" y="1067.1" font-size="14" textLength="15.9" lengthAdjust="spacingAndGlyphs" stroke="#000" stroke-width="0.6">30</text>
<text x="1257.0" y="1067.1" font-size="14" textLength="15.9" lengthAdjust="spacingAndGlyphs" stroke="#000" stroke-width="0.6">30</text>
<text x="1308.2" y="1067.6" font-size="14" textLength="14.5" lengthAdjust="spacingAndGlyphs" stroke="#000" stroke-width="0.6">11</text>
<text x="1330.0" y="1067.6" font-size="14" textLength="29.6" lengthAdjust="spacingAndGlyphs" stroke="#000" stroke-width="0.6">9/16</text>
<text x="1380.7" y="1066.6" font-size="14" textLength="15.9" lengthAdjust="spacingAndGlyphs" stroke="#000" stroke-width="0.6">56</text>
<text x="1403.9" y="1066.6" font-size="14" textLength="21.5" lengthAdjust="spacingAndGlyphs" stroke="#000" stroke-width="0.6">1/2</text>
<text x="1442.5" y="1065.1" font-size="14" textLength="15.9" lengthAdjust="spacingAndGlyphs" stroke="#000" stroke-width="0.6">67</text>
<text x="1465.7" y="1065.1" font-size="14" textLength="36.3" lengthAdjust="spacingAndGlyphs" stroke="#000" stroke-width="0.6">11/16</text>
<text x="1533.0" y="1067.1" font-size="14" textLength="15.9" lengthAdjust="spacingAndGlyphs" stroke="#000" stroke-width="0.6">62</text>
<text x="1602.5" y="1065.1" font-size="14" textLength="15.2" lengthAdjust="spacingAndGlyphs" stroke="#000" stroke-width="0.6">51</text>
<text x="1673.5" y="1065.1" font-size="14" textLength="15.2" lengthAdjust="spacingAndGlyphs" stroke="#000" stroke-width="0.6">10</text>
<line x1="205.8" y1="80.0" x2="205.8" y2="212.0" stroke="#000" stroke-width="2.0"/>
<line x1="340.0" y1="80.0" x2="340.0" y2="236.0" stroke="#000" stroke-width="2.0"/>
<line x1="205.8" y1="84.8" x2="258.0" y2="84.8" stroke="#000" stroke-width="2.0"/>
<line x1="286.4" y1="84.8" x2="340.0" y2="84.8" stroke="#000" stroke-width="2.0"/>
<polygon points="205.8,84.8 219.8,82.2 219.8,87.4" fill="#000"/>
<polygon points="340.0,84.8 326.0,87.4 326.0,82.2" fill="#000"/>
<text x="272.4" y="88.9" font-size="11.5" text-anchor="middle" textLength="21.0" lengthAdjust="spacingAndGlyphs" font-weight="bold">DIA.</text>
<line x1="85.2" y1="139.0" x2="150.7" y2="139.0" stroke="#000" stroke-width="2.0"/>
<line x1="167.3" y1="139.0" x2="225.0" y2="139.0" stroke="#000" stroke-width="2.0"/>
<polygon points="85.2,139.0 99.2,136.4 99.2,141.6" fill="#000"/>
<polygon points="225.0,139.0 211.0,141.6 211.0,136.4" fill="#000"/>
<text x="159.0" y="143.1" font-size="11.5" text-anchor="middle" font-weight="bold">P</text>
<line x1="225.0" y1="139.0" x2="265.0" y2="139.0" stroke="#000" stroke-width="2.0"/>
<line x1="282.9" y1="139.0" x2="320.6" y2="139.0" stroke="#000" stroke-width="2.0"/>
<polygon points="225.0,139.0 239.0,136.4 239.0,141.6" fill="#000"/>
<polygon points="320.6,139.0 306.6,141.6 306.6,136.4" fill="#000"/>
<text x="273.5" y="143.1" font-size="11.5" text-anchor="middle" font-weight="bold">E</text>
<line x1="85.5" y1="134.0" x2="85.5" y2="573.0" stroke="#000" stroke-width="2"/>
<line x1="83.6" y1="222" x2="83.6" y2="470" stroke="#000" stroke-width="1.6" stroke-dasharray="2.5,2.5"/>
<line x1="225.8" y1="134.0" x2="225.8" y2="467.3" stroke="#000" stroke-width="2"/>
<line x1="319.8" y1="134.0" x2="320.8" y2="467.3" stroke="#000" stroke-width="2"/>
<line x1="328.4" y1="258.0" x2="328.4" y2="573.0" stroke="#000" stroke-width="2"/>
<line x1="217.5" y1="258.0" x2="217.5" y2="336.4" stroke="#000" stroke-width="2"/>
<line x1="32.4" y1="214.5" x2="201.8" y2="214.5" stroke="#000" stroke-width="2"/>
<line x1="85.5" y1="267.6" x2="217.5" y2="267.6" stroke="#8a8a8a" stroke-width="2.2"/>
<line x1="85.5" y1="283.6" x2="217.5" y2="283.6" stroke="#000" stroke-width="2"/>
<circle cx="102.0" cy="281.0" r="2.0" stroke="#000" stroke-width="0" fill="#000"/>
<circle cx="155.0" cy="281.0" r="2.0" stroke="#000" stroke-width="0" fill="#000"/>
<circle cx="209.0" cy="281.0" r="2.0" stroke="#000" stroke-width="0" fill="#000"/>
<rect x="100.0" y="289.5" width="15.3" height="5.0" fill="#000"/>
<polygon points="101.5,298.0 113.8,298.0 115.3,302.5 100.0,302.5" stroke="#000" stroke-width="0" fill="#000"/>
<polygon points="101.5,306.0 113.8,306.0 115.3,310.5 100.0,310.5" stroke="#000" stroke-width="0" fill="#000"/>
<polygon points="101.5,314.0 113.8,314.0 115.3,318.5 100.0,318.5" stroke="#000" stroke-width="0" fill="#000"/>
<polygon points="101.5,322.0 113.8,322.0 115.3,326.5 100.0,326.5" stroke="#000" stroke-width="0" fill="#000"/>
<rect x="132.0" y="289.5" width="14.5" height="5.0" fill="#000"/>
<polygon points="133.5,298.0 145.0,298.0 146.5,302.5 132.0,302.5" stroke="#000" stroke-width="0" fill="#000"/>
<polygon points="133.5,306.0 145.0,306.0 146.5,310.5 132.0,310.5" stroke="#000" stroke-width="0" fill="#000"/>
<polygon points="133.5,314.0 145.0,314.0 146.5,318.5 132.0,318.5" stroke="#000" stroke-width="0" fill="#000"/>
<polygon points="133.5,322.0 145.0,322.0 146.5,326.5 132.0,326.5" stroke="#000" stroke-width="0" fill="#000"/>
<rect x="160.4" y="289.5" width="14.6" height="5.0" fill="#000"/>
<polygon points="161.9,298.0 173.5,298.0 175.0,302.5 160.4,302.5" stroke="#000" stroke-width="0" fill="#000"/>
<polygon points="161.9,306.0 173.5,306.0 175.0,310.5 160.4,310.5" stroke="#000" stroke-width="0" fill="#000"/>
<polygon points="161.9,314.0 173.5,314.0 175.0,318.5 160.4,318.5" stroke="#000" stroke-width="0" fill="#000"/>
<polygon points="161.9,322.0 173.5,322.0 175.0,326.5 160.4,326.5" stroke="#000" stroke-width="0" fill="#000"/>
<rect x="188.7" y="289.5" width="14.9" height="5.0" fill="#000"/>
<polygon points="190.2,298.0 202.1,298.0 203.6,302.5 188.7,302.5" stroke="#000" stroke-width="0" fill="#000"/>
<polygon points="190.2,306.0 202.1,306.0 203.6,310.5 188.7,310.5" stroke="#000" stroke-width="0" fill="#000"/>
<polygon points="190.2,314.0 202.1,314.0 203.6,318.5 188.7,318.5" stroke="#000" stroke-width="0" fill="#000"/>
<polygon points="190.2,322.0 202.1,322.0 203.6,326.5 188.7,326.5" stroke="#000" stroke-width="0" fill="#000"/>
<path d="M85,303.5 L79,303.5 Q77,304 77,307 L77,319 Q77,322.5 79,322.5 L85,322.5" stroke="#000" stroke-width="2.2" fill="none"/>
<rect x="145.4" y="374.5" width="37.2" height="67.3" stroke="#000" stroke-width="2" fill="none"/>
<circle cx="154.5" cy="371.3" r="1.8" stroke="#000" stroke-width="1.4" fill="none"/>
<circle cx="173.5" cy="371.3" r="1.8" stroke="#000" stroke-width="1.4" fill="none"/>
<circle cx="154.5" cy="445.3" r="1.8" stroke="#000" stroke-width="1.4" fill="none"/>
<circle cx="173.5" cy="445.3" r="1.8" stroke="#000" stroke-width="1.4" fill="none"/>
<circle cx="118.0" cy="387.0" r="2.2" stroke="#000" stroke-width="0" fill="#000"/>
<circle cx="118.0" cy="395.6" r="2.2" stroke="#000" stroke-width="0" fill="#000"/>
<circle cx="118.0" cy="403.8" r="2.2" stroke="#000" stroke-width="0" fill="#000"/>
<circle cx="118.0" cy="412.5" r="1.4" stroke="#000" stroke-width="0" fill="#000"/>
<line x1="126.5" y1="356.5" x2="129.5" y2="356.5" stroke="#8a8a8a" stroke-width="0.8"/>
<line x1="128.0" y1="355.0" x2="128.0" y2="358.0" stroke="#8a8a8a" stroke-width="0.8"/>
<line x1="165.5" y1="356.5" x2="168.5" y2="356.5" stroke="#8a8a8a" stroke-width="0.8"/>
<line x1="167.0" y1="355.0" x2="167.0" y2="358.0" stroke="#8a8a8a" stroke-width="0.8"/>
<line x1="205.5" y1="356.5" x2="208.5" y2="356.5" stroke="#8a8a8a" stroke-width="0.8"/>
<line x1="207.0" y1="355.0" x2="207.0" y2="358.0" stroke="#8a8a8a" stroke-width="0.8"/>
<line x1="116.0" y1="364.0" x2="119.0" y2="364.0" stroke="#8a8a8a" stroke-width="0.8"/>
<line x1="117.5" y1="362.5" x2="117.5" y2="365.5" stroke="#8a8a8a" stroke-width="0.8"/>
<line x1="162.0" y1="368.0" x2="165.0" y2="368.0" stroke="#8a8a8a" stroke-width="0.8"/>
<line x1="163.5" y1="366.5" x2="163.5" y2="369.5" stroke="#8a8a8a" stroke-width="0.8"/>
<line x1="141.5" y1="451.0" x2="144.5" y2="451.0" stroke="#8a8a8a" stroke-width="0.8"/>
<line x1="143.0" y1="449.5" x2="143.0" y2="452.5" stroke="#8a8a8a" stroke-width="0.8"/>
<line x1="180.5" y1="451.0" x2="183.5" y2="451.0" stroke="#8a8a8a" stroke-width="0.8"/>
<line x1="182.0" y1="449.5" x2="182.0" y2="452.5" stroke="#8a8a8a" stroke-width="0.8"/>
<line x1="116.0" y1="460.0" x2="119.0" y2="460.0" stroke="#8a8a8a" stroke-width="0.8"/>
<line x1="117.5" y1="458.5" x2="117.5" y2="461.5" stroke="#8a8a8a" stroke-width="0.8"/>
<line x1="126.5" y1="338.0" x2="129.5" y2="338.0" stroke="#8a8a8a" stroke-width="0.8"/>
<line x1="128.0" y1="336.5" x2="128.0" y2="339.5" stroke="#8a8a8a" stroke-width="0.8"/>
<line x1="165.5" y1="338.0" x2="168.5" y2="338.0" stroke="#8a8a8a" stroke-width="0.8"/>
<line x1="167.0" y1="336.5" x2="167.0" y2="339.5" stroke="#8a8a8a" stroke-width="0.8"/>
<line x1="205.5" y1="338.0" x2="208.5" y2="338.0" stroke="#8a8a8a" stroke-width="0.8"/>
<line x1="207.0" y1="336.5" x2="207.0" y2="339.5" stroke="#8a8a8a" stroke-width="0.8"/>
<line x1="220.5" y1="304.0" x2="223.5" y2="304.0" stroke="#8a8a8a" stroke-width="0.8"/>
<line x1="222.0" y1="302.5" x2="222.0" y2="305.5" stroke="#8a8a8a" stroke-width="0.8"/>
<line x1="220.5" y1="332.0" x2="223.5" y2="332.0" stroke="#8a8a8a" stroke-width="0.8"/>
<line x1="222.0" y1="330.5" x2="222.0" y2="333.5" stroke="#8a8a8a" stroke-width="0.8"/>
<line x1="85.5" y1="467.3" x2="328.4" y2="467.3" stroke="#000" stroke-width="2.4"/>
<line x1="114.2" y1="467.3" x2="114.2" y2="554.0" stroke="#000" stroke-width="2"/>
<line x1="32.4" y1="484.0" x2="223.0" y2="484.0" stroke="#000" stroke-width="2.4"/>
<line x1="223.0" y1="483.5" x2="328.4" y2="483.5" stroke="#8a8a8a" stroke-width="2"/>
<line x1="225.8" y1="420.7" x2="319.8" y2="420.7" stroke="#000" stroke-width="2"/>
<line x1="225.8" y1="202.6" x2="319.8" y2="202.6" stroke="#000" stroke-width="2"/>
<line x1="225.8" y1="221.5" x2="319.8" y2="221.5" stroke="#000" stroke-width="2"/>
<line x1="225.8" y1="278.0" x2="319.8" y2="278.0" stroke="#000" stroke-width="2"/>
<line x1="225.8" y1="315.0" x2="319.8" y2="315.0" stroke="#000" stroke-width="2"/>
<line x1="225.8" y1="328.7" x2="319.8" y2="328.7" stroke="#000" stroke-width="2"/>
<line x1="217.5" y1="336.4" x2="328.4" y2="336.4" stroke="#000" stroke-width="2.6"/>
<line x1="225.8" y1="340.7" x2="319.8" y2="340.7" stroke="#8a8a8a" stroke-width="2"/>
<ellipse cx="272.7" cy="231.5" rx="67" ry="48.8" stroke="#000" stroke-width="2" fill="none"/>
<line x1="225.8" y1="221.5" x2="319.8" y2="221.5" stroke="#000" stroke-width="2"/>
<ellipse cx="272.7" cy="211.8" rx="70.5" ry="52.0" stroke="#000" stroke-width="2" fill="none"/>
<ellipse cx="272.7" cy="211.8" rx="67.8" ry="49.3" stroke="#000" stroke-width="2.0" fill="none"/>
<line x1="225.8" y1="202.6" x2="319.8" y2="202.6" stroke="#000" stroke-width="2"/>
<line x1="225.8" y1="221.5" x2="319.8" y2="221.5" stroke="#000" stroke-width="2"/>
<line x1="225.8" y1="166.0" x2="225.8" y2="258.0" stroke="#000" stroke-width="2"/>
<line x1="319.8" y1="166.0" x2="319.8" y2="258.0" stroke="#000" stroke-width="2"/>
<path d="M217.5,258 Q220,262 225.8,276" stroke="#000" stroke-width="1.5" fill="none"/>
<path d="M328.4,258 Q325,262 319.8,276" stroke="#000" stroke-width="1.5" fill="none"/>
<rect x="266.0" y="421.8" width="14.0" height="3.2" fill="#000"/>
<rect x="262.0" y="425.0" width="22.0" height="5.0" fill="#000"/>
<rect x="264.0" y="433.3" width="18.0" height="11.4" stroke="#000" stroke-width="2" fill="none"/>
<line x1="264.0" y1="436.5" x2="282.0" y2="436.5" stroke="#000" stroke-width="1.5"/>
<line x1="282.0" y1="445.0" x2="406.4" y2="507.0" stroke="#000" stroke-width="2.0"/>
<line x1="406.4" y1="507.0" x2="410.0" y2="507.0" stroke="#000" stroke-width="2.0"/>
<polygon points="282.0,445.0 295.7,448.9 293.4,453.6" fill="#000"/>
<text x="409.0" y="511.6" font-size="11.5" textLength="55.5" lengthAdjust="spacingAndGlyphs" font-weight="bold">2IN DRAIN</text>
<line x1="34.1" y1="214.5" x2="34.1" y2="333.0" stroke="#000" stroke-width="2.0"/>
<line x1="34.1" y1="349.5" x2="34.1" y2="484.0" stroke="#000" stroke-width="2.0"/>
<polygon points="34.1,214.5 36.7,228.5 31.5,228.5" fill="#000"/>
<polygon points="34.1,484.0 31.5,470.0 36.7,470.0" fill="#000"/>
<text x="34.1" y="345.1" font-size="11.5" text-anchor="middle" font-weight="bold">H</text>
<line x1="331.0" y1="241.3" x2="434.0" y2="241.3" stroke="#000" stroke-width="2"/>
<path d="M434,241.3 A32.9,32.9 0 0 1 434,303.7" stroke="#000" stroke-width="2" fill="none"/>
<line x1="438.0" y1="241.3" x2="479.0" y2="241.3" stroke="#000" stroke-width="2.0"/>
<circle cx="426.5" cy="336.0" r="31.5" stroke="#000" stroke-width="2" fill="none"/>
<line x1="328.4" y1="367.0" x2="480.0" y2="367.0" stroke="#000" stroke-width="2"/>
<line x1="477.0" y1="241.3" x2="477.0" y2="296.0" stroke="#000" stroke-width="2.0"/>
<line x1="477.0" y1="312.0" x2="477.0" y2="367.0" stroke="#000" stroke-width="2.0"/>
<polygon points="477.0,241.3 479.6,255.3 474.4,255.3" fill="#000"/>
<polygon points="477.0,367.0 474.4,353.0 479.6,353.0" fill="#000"/>
<text x="477.0" y="308.1" font-size="11.5" text-anchor="middle" font-weight="bold">D</text>
<line x1="350.0" y1="237.0" x2="350.0" y2="444.7" stroke="#000" stroke-width="3"/>
<circle cx="350.0" cy="237.5" r="2.6" stroke="#000" stroke-width="0" fill="#000"/>
<circle cx="350.0" cy="257.6" r="2.6" stroke="#000" stroke-width="0" fill="#000"/>
<circle cx="350.0" cy="304.0" r="2.6" stroke="#000" stroke-width="0" fill="#000"/>
<circle cx="350.0" cy="351.0" r="2.6" stroke="#000" stroke-width="0" fill="#000"/>
<circle cx="350.0" cy="370.3" r="2.6" stroke="#000" stroke-width="0" fill="#000"/>
<line x1="291.8" y1="393.2" x2="319.8" y2="393.2" stroke="#000" stroke-width="2.0"/>
<polygon points="319.8,393.2 305.8,395.8 305.8,390.6" fill="#000"/>
<line x1="328.4" y1="393.2" x2="398.0" y2="393.2" stroke="#000" stroke-width="2.0"/>
<polygon points="328.4,393.2 342.4,390.6 342.4,395.8" fill="#000"/>
<text x="402.3" y="397.6" font-size="11.5" textLength="40.0" lengthAdjust="spacingAndGlyphs" font-weight="bold">FLANGE</text>
<line x1="322.0" y1="442.8" x2="350.0" y2="442.8" stroke="#000" stroke-width="2.0"/>
<polygon points="350.0,442.8 336.0,445.4 336.0,440.2" fill="#000"/>
<line x1="354.0" y1="442.8" x2="435.0" y2="442.8" stroke="#000" stroke-width="2.0"/>
<polygon points="354.0,442.8 368.0,440.2 368.0,445.4" fill="#000"/>
<line x1="354.0" y1="440.6" x2="354.0" y2="512.3" stroke="#000" stroke-width="1.8"/>
<text x="440.0" y="447.2" font-size="11.5" textLength="6.5" lengthAdjust="spacingAndGlyphs" font-weight="bold">Y</text>
<line x1="429.8" y1="103.7" x2="410.2" y2="103.7" stroke="#000" stroke-width="2.0"/>
<line x1="410.2" y1="103.7" x2="378.3" y2="241.2" stroke="#000" stroke-width="2.0"/>
<polygon points="378.3,241.2 378.9,227.0 384.0,228.1" fill="#000"/>
<ellipse cx="436" cy="104.6" rx="3" ry="3.6" fill="#000"/>
<text x="439.5" y="108.6" font-size="11" textLength="31.0" lengthAdjust="spacingAndGlyphs" font-weight="bold">INLET</text>
<rect x="70.7" y="512.3" width="284.3" height="28.3" stroke="#000" stroke-width="2.2" fill="none"/>
<line x1="70.7" y1="518.3" x2="355.0" y2="518.3" stroke="#000" stroke-width="2.2"/>
<line x1="73.8" y1="518.3" x2="73.8" y2="540.6" stroke="#8a8a8a" stroke-width="1"/>
<line x1="351.9" y1="518.3" x2="351.9" y2="540.6" stroke="#8a8a8a" stroke-width="1"/>
<circle cx="88.4" cy="528.6" r="4.3" stroke="#000" stroke-width="1.8" fill="none"/>
<circle cx="105.6" cy="528.6" r="4.3" stroke="#000" stroke-width="1.8" fill="none"/>
<circle cx="320.0" cy="528.6" r="4.3" stroke="#000" stroke-width="1.8" fill="none"/>
<circle cx="336.6" cy="528.6" r="4.3" stroke="#000" stroke-width="1.8" fill="none"/>
<rect x="117.6" y="521.7" width="47.4" height="12.9" stroke="#000" stroke-width="2" fill="none"/>
<rect x="260.4" y="521.7" width="47.3" height="12.9" stroke="#000" stroke-width="2" fill="none"/>
<circle cx="96.9" cy="535.8" r="2.2" stroke="#000" stroke-width="0" fill="#000"/>
<circle cx="175.0" cy="535.8" r="2.2" stroke="#000" stroke-width="0" fill="#000"/>
<circle cx="213.5" cy="535.8" r="2.2" stroke="#000" stroke-width="0" fill="#000"/>
<circle cx="251.7" cy="535.8" r="2.2" stroke="#000" stroke-width="0" fill="#000"/>
<circle cx="328.7" cy="535.8" r="2.2" stroke="#000" stroke-width="0" fill="#000"/>
<circle cx="81.7" cy="536.8" r="1.3" stroke="#000" stroke-width="0" fill="#000"/>
<circle cx="114.7" cy="536.8" r="1.3" stroke="#000" stroke-width="0" fill="#000"/>
<circle cx="166.7" cy="536.8" r="1.3" stroke="#000" stroke-width="0" fill="#000"/>
<circle cx="257.7" cy="536.8" r="1.3" stroke="#000" stroke-width="0" fill="#000"/>
<circle cx="309.7" cy="536.8" r="1.3" stroke="#000" stroke-width="0" fill="#000"/>
<circle cx="343.7" cy="536.8" r="1.3" stroke="#000" stroke-width="0" fill="#000"/>
<path d="M183.0,518.3 L183.0,504.8 L187.7,504.8" stroke="#000" stroke-width="1.8" fill="none"/>
<rect x="129.5" y="471.2" width="5.6" height="2.8" fill="#000"/>
<rect x="130.5" y="473.5" width="3.6" height="2.0" fill="#000"/>
<ellipse cx="132.3" cy="477.4" rx="3.4" ry="2.5" fill="#000"/>
<rect x="130.8" y="479.5" width="3.0" height="4.0" fill="#000"/>
<rect x="124.5" y="483.0" width="16.0" height="4.7" fill="#000"/>
<polygon points="121.3,487.7 143.8,487.7 144.8,496.5 146.5,497.5 146.5,501.0 144.8,501.5 144.8,504.0 120.3,504.0 120.3,501.5 118.3,501.0 118.3,497.5 119.8,496.5" stroke="#000" stroke-width="0" fill="#000"/>
<rect x="128.5" y="492.5" width="7.5" height="8.5" fill="#fff"/>
<line x1="125.8" y1="489.4" x2="139.1" y2="489.4" stroke="#8a8a8a" stroke-width="1.4"/>
<path d="M124.8,499.5 Q125.3,503.3 132.3,503.3 Q139.3,503.3 139.8,499.5" stroke="#8a8a8a" stroke-width="1.3" fill="none"/>
<rect x="114.8" y="503.7" width="36.9" height="3.6" fill="#000"/>
<rect x="115.7" y="506.0" width="35.1" height="5.6" stroke="#000" stroke-width="1.8" fill="none"/>
<rect x="213.7" y="471.2" width="5.6" height="2.8" fill="#000"/>
<rect x="214.7" y="473.5" width="3.6" height="2.0" fill="#000"/>
<ellipse cx="216.5" cy="477.4" rx="3.4" ry="2.5" fill="#000"/>
<rect x="215.0" y="479.5" width="3.0" height="4.0" fill="#000"/>
<rect x="208.7" y="483.0" width="16.0" height="4.7" fill="#000"/>
<polygon points="205.5,487.7 228.0,487.7 229.0,496.5 230.7,497.5 230.7,501.0 229.0,501.5 229.0,504.0 204.5,504.0 204.5,501.5 202.5,501.0 202.5,497.5 204.0,496.5" stroke="#000" stroke-width="0" fill="#000"/>
<rect x="212.7" y="492.5" width="7.5" height="8.5" fill="#fff"/>
<line x1="210.0" y1="489.4" x2="223.3" y2="489.4" stroke="#8a8a8a" stroke-width="1.4"/>
<path d="M209.0,499.5 Q209.5,503.3 216.5,503.3 Q223.5,503.3 224.0,499.5" stroke="#8a8a8a" stroke-width="1.3" fill="none"/>
<rect x="199.0" y="503.7" width="36.9" height="3.6" fill="#000"/>
<rect x="199.9" y="506.0" width="35.1" height="5.6" stroke="#000" stroke-width="1.8" fill="none"/>
<rect x="308.4" y="471.2" width="5.6" height="2.8" fill="#000"/>
<rect x="309.4" y="473.5" width="3.6" height="2.0" fill="#000"/>
<ellipse cx="311.2" cy="477.4" rx="3.4" ry="2.5" fill="#000"/>
<rect x="309.7" y="479.5" width="3.0" height="4.0" fill="#000"/>
<rect x="303.4" y="483.0" width="16.0" height="4.7" fill="#000"/>
<polygon points="300.2,487.7 322.7,487.7 323.7,496.5 325.4,497.5 325.4,501.0 323.7,501.5 323.7,504.0 299.2,504.0 299.2,501.5 297.2,501.0 297.2,497.5 298.7,496.5" stroke="#000" stroke-width="0" fill="#000"/>
<rect x="307.4" y="492.5" width="7.5" height="8.5" fill="#fff"/>
<line x1="304.7" y1="489.4" x2="318.0" y2="489.4" stroke="#8a8a8a" stroke-width="1.4"/>
<path d="M303.7,499.5 Q304.2,503.3 311.2,503.3 Q318.2,503.3 318.7,499.5" stroke="#8a8a8a" stroke-width="1.3" fill="none"/>
<rect x="293.7" y="503.7" width="36.9" height="3.6" fill="#000"/>
<rect x="294.6" y="506.0" width="35.1" height="5.6" stroke="#000" stroke-width="1.8" fill="none"/>
<line x1="114.2" y1="553.5" x2="210.0" y2="553.5" stroke="#000" stroke-width="2.0"/>
<line x1="225.0" y1="553.5" x2="328.0" y2="553.5" stroke="#000" stroke-width="2.0"/>
<polygon points="114.2,553.5 128.2,550.9 128.2,556.1" fill="#000"/>
<polygon points="328.0,553.5 314.0,556.1 314.0,550.9" fill="#000"/>
<text x="217.5" y="557.8" font-size="12" text-anchor="middle" font-weight="bold">X</text>
<line x1="85.5" y1="572.5" x2="196.0" y2="572.5" stroke="#000" stroke-width="2.0"/>
<line x1="211.0" y1="572.5" x2="328.4" y2="572.5" stroke="#000" stroke-width="2.0"/>
<polygon points="85.5,572.5 99.5,569.9 99.5,575.1" fill="#000"/>
<polygon points="328.4,572.5 314.4,575.1 314.4,569.9" fill="#000"/>
<text x="203.0" y="576.8" font-size="12" text-anchor="middle" font-weight="bold">F</text>
<line x1="477.3" y1="204.5" x2="524.5" y2="160.0" stroke="#000" stroke-width="2.0"/>
<line x1="541.8" y1="142.7" x2="589.5" y2="92.7" stroke="#000" stroke-width="2.0"/>
<polygon points="477.3,204.5 485.4,192.8 489.1,196.5" fill="#000"/>
<polygon points="589.5,92.7 581.7,104.6 577.9,101.0" fill="#000"/>
<text x="533.6" y="155.0" font-size="11.5" text-anchor="middle" font-weight="bold">D</text>
<line x1="589.5" y1="92.7" x2="714.5" y2="217.3" stroke="#000" stroke-width="2"/>
<line x1="477.3" y1="204.5" x2="602.4" y2="332.4" stroke="#000" stroke-width="2"/>
<line x1="520.0" y1="229.0" x2="557.3" y2="193.6" stroke="#000" stroke-width="2.0"/>
<line x1="576.4" y1="172.7" x2="614.2" y2="134.2" stroke="#000" stroke-width="2.0"/>
<polygon points="520.0,229.0 528.1,217.3 531.7,220.9" fill="#000"/>
<polygon points="614.2,134.2 606.3,146.1 602.6,142.4" fill="#000"/>
<text x="566.4" y="187.7" font-size="11.5" text-anchor="middle" textLength="20.0" lengthAdjust="spacingAndGlyphs" font-weight="bold">DIA.</text>
<line x1="520.0" y1="229.0" x2="545.7" y2="256.7" stroke="#000" stroke-width="1.8"/>
<line x1="614.2" y1="134.2" x2="640.0" y2="160.0" stroke="#000" stroke-width="1.8"/>
<path d="M640,160 Q652,172 660,180 Q675,192 694.5,198.2" stroke="#000" stroke-width="1.8" fill="none"/>
<line x1="545.7" y1="256.7" x2="640.0" y2="160.0" stroke="#000" stroke-width="2"/>
<line x1="564.6" y1="275.2" x2="660.0" y2="180.0" stroke="#000" stroke-width="2"/>
<line x1="564.6" y1="275.2" x2="584.7" y2="310.0" stroke="#000" stroke-width="2"/>
<line x1="584.7" y1="310.0" x2="694.5" y2="198.2" stroke="#000" stroke-width="2"/>
<path d="M545.7,256.7 Q540.4,259 540.4,264 L540.4,608" stroke="#000" stroke-width="2" fill="none"/>
<line x1="596.4" y1="338.2" x2="722.2" y2="211.8" stroke="#000" stroke-width="4" stroke-linecap="round"/>
<path d="M614.2,331.2 L719.5,225 L726.5,228.2" stroke="#000" stroke-width="1.9" fill="none"/>
<path d="M602.9,331 Q652,374 706.4,416.3" stroke="#000" stroke-width="3" fill="none"/>
<path d="M614.2,331.6 Q664,372 706.4,408" stroke="#000" stroke-width="2.0" fill="none"/>
<path d="M687.5,405.7 L687.5,441 L707.6,441" stroke="#000" stroke-width="2" fill="none"/>
<rect x="654.4" y="313.0" width="28.4" height="38.3" stroke="#000" stroke-width="2" fill="none"/>
<line x1="653.2" y1="351.3" x2="642.6" y2="412.8" stroke="#000" stroke-width="2.0"/>
<text x="553.8" y="427.2" font-size="12.5" textLength="113.0" lengthAdjust="spacingAndGlyphs" stroke="#000" stroke-width="0.25">Firestat Location</text>
<text x="553.8" y="439.6" font-size="12.5" textLength="118.0" lengthAdjust="spacingAndGlyphs" stroke="#000" stroke-width="0.25">To be Installed by</text>
<text x="553.8" y="451.2" font-size="12.5" textLength="66.5" lengthAdjust="spacingAndGlyphs" stroke="#000" stroke-width="0.25">Electrician</text>
<circle cx="797.7" cy="304.5" r="85.0" stroke="#000" stroke-width="1.7" fill="none"/>
<circle cx="797.7" cy="304.5" r="72.0" stroke="#000" stroke-width="1.7" fill="none"/>
<circle cx="797.7" cy="304.5" r="62.0" stroke="#000" stroke-width="2.6" fill="none"/>
<circle cx="797.7" cy="304.5" r="54.5" stroke="#000" stroke-width="2.6" fill="none"/>
<circle cx="797.7" cy="304.5" r="30.5" stroke="#000" stroke-width="1.7" fill="none"/>
<circle cx="797.7" cy="304.5" r="9.0" stroke="#000" stroke-width="0" fill="#000"/>
<circle cx="797.7" cy="304.5" r="5.0" stroke="#fff" stroke-width="1.2" fill="none"/>
<circle cx="797.7" cy="304.5" r="2.0" stroke="#000" stroke-width="0" fill="#000"/>
<line x1="707.7" y1="304.5" x2="951.6" y2="304.5" stroke="#000" stroke-width="1.8"/>
<line x1="797.7" y1="219.5" x2="797.7" y2="390.0" stroke="#000" stroke-width="1.8"/>
<circle cx="855.3" cy="362.1" r="2.0" stroke="#000" stroke-width="0" fill="#000"/>
<circle cx="845.8" cy="352.6" r="2.0" stroke="#000" stroke-width="0" fill="#000"/>
<circle cx="740.1" cy="362.1" r="2.0" stroke="#000" stroke-width="0" fill="#000"/>
<circle cx="749.6" cy="352.6" r="2.0" stroke="#000" stroke-width="0" fill="#000"/>
<circle cx="740.1" cy="246.9" r="2.0" stroke="#000" stroke-width="0" fill="#000"/>
<circle cx="749.6" cy="256.4" r="2.0" stroke="#000" stroke-width="0" fill="#000"/>
<circle cx="855.3" cy="246.9" r="2.0" stroke="#000" stroke-width="0" fill="#000"/>
<circle cx="845.8" cy="256.4" r="2.0" stroke="#000" stroke-width="0" fill="#000"/>
<circle cx="716.4" cy="304.5" r="1.7" stroke="#000" stroke-width="0" fill="#000"/>
<circle cx="729.5" cy="304.5" r="1.7" stroke="#000" stroke-width="0" fill="#000"/>
<circle cx="865.2" cy="304.5" r="1.7" stroke="#000" stroke-width="0" fill="#000"/>
<circle cx="878.9" cy="304.5" r="1.7" stroke="#000" stroke-width="0" fill="#000"/>
<circle cx="797.7" cy="222.7" r="1.7" stroke="#000" stroke-width="0" fill="#000"/>
<circle cx="797.7" cy="235.9" r="1.7" stroke="#000" stroke-width="0" fill="#000"/>
<circle cx="797.7" cy="371.8" r="1.7" stroke="#000" stroke-width="0" fill="#000"/>
<circle cx="797.7" cy="383.6" r="1.7" stroke="#000" stroke-width="0" fill="#000"/>
<line x1="812.4" y1="304.5" x2="815.0" y2="304.5" stroke="#8a8a8a" stroke-width="0.7"/>
<line x1="813.7" y1="303.2" x2="813.7" y2="305.8" stroke="#8a8a8a" stroke-width="0.7"/>
<line x1="819.6" y1="310.7" x2="822.2" y2="310.7" stroke="#8a8a8a" stroke-width="0.7"/>
<line x1="820.9" y1="309.4" x2="820.9" y2="312.0" stroke="#8a8a8a" stroke-width="0.7"/>
<line x1="810.3" y1="312.5" x2="812.9" y2="312.5" stroke="#8a8a8a" stroke-width="0.7"/>
<line x1="811.6" y1="311.2" x2="811.6" y2="313.8" stroke="#8a8a8a" stroke-width="0.7"/>
<line x1="813.4" y1="321.5" x2="816.0" y2="321.5" stroke="#8a8a8a" stroke-width="0.7"/>
<line x1="814.7" y1="320.2" x2="814.7" y2="322.8" stroke="#8a8a8a" stroke-width="0.7"/>
<line x1="804.4" y1="318.4" x2="807.0" y2="318.4" stroke="#8a8a8a" stroke-width="0.7"/>
<line x1="805.7" y1="317.1" x2="805.7" y2="319.7" stroke="#8a8a8a" stroke-width="0.7"/>
<line x1="802.6" y1="327.7" x2="805.2" y2="327.7" stroke="#8a8a8a" stroke-width="0.7"/>
<line x1="803.9" y1="326.4" x2="803.9" y2="329.0" stroke="#8a8a8a" stroke-width="0.7"/>
<line x1="796.4" y1="320.5" x2="799.0" y2="320.5" stroke="#8a8a8a" stroke-width="0.7"/>
<line x1="797.7" y1="319.2" x2="797.7" y2="321.8" stroke="#8a8a8a" stroke-width="0.7"/>
<line x1="790.2" y1="327.7" x2="792.8" y2="327.7" stroke="#8a8a8a" stroke-width="0.7"/>
<line x1="791.5" y1="326.4" x2="791.5" y2="329.0" stroke="#8a8a8a" stroke-width="0.7"/>
<line x1="788.4" y1="318.4" x2="791.0" y2="318.4" stroke="#8a8a8a" stroke-width="0.7"/>
<line x1="789.7" y1="317.1" x2="789.7" y2="319.7" stroke="#8a8a8a" stroke-width="0.7"/>
<line x1="779.4" y1="321.5" x2="782.0" y2="321.5" stroke="#8a8a8a" stroke-width="0.7"/>
<line x1="780.7" y1="320.2" x2="780.7" y2="322.8" stroke="#8a8a8a" stroke-width="0.7"/>
<line x1="782.5" y1="312.5" x2="785.1" y2="312.5" stroke="#8a8a8a" stroke-width="0.7"/>
<line x1="783.8" y1="311.2" x2="783.8" y2="313.8" stroke="#8a8a8a" stroke-width="0.7"/>
<line x1="773.2" y1="310.7" x2="775.8" y2="310.7" stroke="#8a8a8a" stroke-width="0.7"/>
<line x1="774.5" y1="309.4" x2="774.5" y2="312.0" stroke="#8a8a8a" stroke-width="0.7"/>
<line x1="780.4" y1="304.5" x2="783.0" y2="304.5" stroke="#8a8a8a" stroke-width="0.7"/>
<line x1="781.7" y1="303.2" x2="781.7" y2="305.8" stroke="#8a8a8a" stroke-width="0.7"/>
<line x1="773.2" y1="298.3" x2="775.8" y2="298.3" stroke="#8a8a8a" stroke-width="0.7"/>
<line x1="774.5" y1="297.0" x2="774.5" y2="299.6" stroke="#8a8a8a" stroke-width="0.7"/>
<line x1="782.5" y1="296.5" x2="785.1" y2="296.5" stroke="#8a8a8a" stroke-width="0.7"/>
<line x1="783.8" y1="295.2" x2="783.8" y2="297.8" stroke="#8a8a8a" stroke-width="0.7"/>
<line x1="779.4" y1="287.5" x2="782.0" y2="287.5" stroke="#8a8a8a" stroke-width="0.7"/>
<line x1="780.7" y1="286.2" x2="780.7" y2="288.8" stroke="#8a8a8a" stroke-width="0.7"/>
<line x1="788.4" y1="290.6" x2="791.0" y2="290.6" stroke="#8a8a8a" stroke-width="0.7"/>
<line x1="789.7" y1="289.3" x2="789.7" y2="291.9" stroke="#8a8a8a" stroke-width="0.7"/>
<line x1="790.2" y1="281.3" x2="792.8" y2="281.3" stroke="#8a8a8a" stroke-width="0.7"/>
<line x1="791.5" y1="280.0" x2="791.5" y2="282.6" stroke="#8a8a8a" stroke-width="0.7"/>
<line x1="796.4" y1="288.5" x2="799.0" y2="288.5" stroke="#8a8a8a" stroke-width="0.7"/>
<line x1="797.7" y1="287.2" x2="797.7" y2="289.8" stroke="#8a8a8a" stroke-width="0.7"/>
<line x1="802.6" y1="281.3" x2="805.2" y2="281.3" stroke="#8a8a8a" stroke-width="0.7"/>
<line x1="803.9" y1="280.0" x2="803.9" y2="282.6" stroke="#8a8a8a" stroke-width="0.7"/>
<line x1="804.4" y1="290.6" x2="807.0" y2="290.6" stroke="#8a8a8a" stroke-width="0.7"/>
<line x1="805.7" y1="289.3" x2="805.7" y2="291.9" stroke="#8a8a8a" stroke-width="0.7"/>
<line x1="813.4" y1="287.5" x2="816.0" y2="287.5" stroke="#8a8a8a" stroke-width="0.7"/>
<line x1="814.7" y1="286.2" x2="814.7" y2="288.8" stroke="#8a8a8a" stroke-width="0.7"/>
<line x1="810.3" y1="296.5" x2="812.9" y2="296.5" stroke="#8a8a8a" stroke-width="0.7"/>
<line x1="811.6" y1="295.2" x2="811.6" y2="297.8" stroke="#8a8a8a" stroke-width="0.7"/>
<line x1="819.6" y1="298.3" x2="822.2" y2="298.3" stroke="#8a8a8a" stroke-width="0.7"/>
<line x1="820.9" y1="297.0" x2="820.9" y2="299.6" stroke="#8a8a8a" stroke-width="0.7"/>
<path d="M719.4,216.0 A118.2,118.2 0 0 1 888.2,380.5" stroke="#000" stroke-width="2.2" fill="none"/>
<path d="M723.1,217.2 A114.8,114.8 0 0 1 886.9,376.7" stroke="#000" stroke-width="1.0" fill="none"/>
<path d="M726.5,228.2 A98,98 0 0 0 707.7,330" stroke="#000" stroke-width="2" fill="none"/>
<line x1="792.0" y1="186.0" x2="997.5" y2="186.0" stroke="#000" stroke-width="2.0"/>
<line x1="707.7" y1="304.5" x2="707.7" y2="483.0" stroke="#000" stroke-width="2"/>
<line x1="886.8" y1="304.5" x2="886.8" y2="483.0" stroke="#000" stroke-width="2"/>
<line x1="915.2" y1="300.0" x2="915.2" y2="608.0" stroke="#000" stroke-width="2"/>
<line x1="707.7" y1="483.0" x2="997.5" y2="483.0" stroke="#000" stroke-width="2"/>
<line x1="950.4" y1="304.5" x2="950.4" y2="385.0" stroke="#000" stroke-width="2.0"/>
<line x1="950.4" y1="400.0" x2="950.4" y2="483.0" stroke="#000" stroke-width="2.0"/>
<polygon points="950.4,304.5 953.0,318.5 947.8,318.5" fill="#000"/>
<polygon points="950.4,483.0 947.8,469.0 953.0,469.0" fill="#000"/>
<text x="950.4" y="396.1" font-size="11.5" text-anchor="middle" font-weight="bold">G</text>
<line x1="994.5" y1="186.0" x2="994.5" y2="331.0" stroke="#000" stroke-width="2.0"/>
<line x1="994.5" y1="346.0" x2="994.5" y2="483.0" stroke="#000" stroke-width="2.0"/>
<polygon points="994.5,186.0 997.1,200.0 991.9,200.0" fill="#000"/>
<polygon points="994.5,483.0 991.9,469.0 997.1,469.0" fill="#000"/>
<text x="994.5" y="342.1" font-size="11.5" text-anchor="middle" textLength="13.0" lengthAdjust="spacingAndGlyphs" font-weight="bold">AU</text>
<line x1="540.4" y1="605.0" x2="738.0" y2="605.0" stroke="#000" stroke-width="2.0"/>
<line x1="766.0" y1="605.0" x2="915.2" y2="605.0" stroke="#000" stroke-width="2.0"/>
<polygon points="540.4,605.0 554.4,602.4 554.4,607.6" fill="#000"/>
<polygon points="915.2,605.0 901.2,607.6 901.2,602.4" fill="#000"/>
<text x="753.3" y="609.1" font-size="11.5" text-anchor="middle" textLength="15.0" lengthAdjust="spacingAndGlyphs" font-weight="bold">AV</text>
<rect x="700.4" y="469.5" width="5.7" height="3.2" fill="#000"/>
<rect x="701.5" y="472.5" width="3.6" height="1.6" fill="#000"/>
<ellipse cx="703.0" cy="476.3" rx="3.1" ry="3.0" fill="#000"/>
<rect x="701.8" y="478.5" width="3.0" height="4.0" fill="#000"/>
<rect x="697.2" y="483.1" width="12.2" height="16.2" stroke="#000" stroke-width="2" fill="none"/>
<line x1="697.2" y1="485.7" x2="709.4" y2="485.7" stroke="#000" stroke-width="1.5"/>
<rect x="701.1" y="489.4" width="4.0" height="9.0" fill="#000"/>
<rect x="696.2" y="499.3" width="14.2" height="1.4" fill="#888"/>
<rect x="696.2" y="500.8" width="14.2" height="7.2" fill="#000"/>
<rect x="698.3" y="503.5" width="3.5" height="1.8" fill="#fff"/>
<rect x="704.8" y="503.5" width="3.5" height="1.8" fill="#fff"/>
<rect x="888.9" y="469.5" width="5.7" height="3.2" fill="#000"/>
<rect x="890.0" y="472.5" width="3.6" height="1.6" fill="#000"/>
<ellipse cx="891.5" cy="476.3" rx="3.1" ry="3.0" fill="#000"/>
<rect x="890.3" y="478.5" width="3.0" height="4.0" fill="#000"/>
<rect x="885.7" y="483.1" width="12.2" height="16.2" stroke="#000" stroke-width="2" fill="none"/>
<line x1="885.7" y1="485.7" x2="897.9" y2="485.7" stroke="#000" stroke-width="1.5"/>
<rect x="889.6" y="489.4" width="4.0" height="9.0" fill="#000"/>
<rect x="884.7" y="499.3" width="14.2" height="1.4" fill="#888"/>
<rect x="884.7" y="500.8" width="14.2" height="7.2" fill="#000"/>
<rect x="886.8" y="503.5" width="3.5" height="1.8" fill="#fff"/>
<rect x="893.3" y="503.5" width="3.5" height="1.8" fill="#fff"/>
<line x1="660.5" y1="509.0" x2="935.7" y2="509.0" stroke="#8a8a8a" stroke-width="2.6"/>
<line x1="660.5" y1="512.0" x2="660.5" y2="550.8" stroke="#000" stroke-width="2"/>
<line x1="935.7" y1="512.0" x2="935.7" y2="550.8" stroke="#000" stroke-width="2"/>
<line x1="659.5" y1="550.8" x2="936.7" y2="550.8" stroke="#000" stroke-width="2.2"/>
<line x1="660.5" y1="517.5" x2="935.7" y2="517.5" stroke="#000" stroke-width="2.6"/>
<circle cx="684.8" cy="537.0" r="6.0" stroke="#000" stroke-width="1.8" fill="none"/>
<circle cx="704.3" cy="537.0" r="6.0" stroke="#000" stroke-width="1.8" fill="none"/>
<circle cx="891.3" cy="537.0" r="6.0" stroke="#000" stroke-width="1.8" fill="none"/>
<circle cx="910.0" cy="537.0" r="6.0" stroke="#000" stroke-width="1.8" fill="none"/>
<circle cx="695.0" cy="545.4" r="2.6" stroke="#000" stroke-width="0" fill="#000"/>
<circle cx="735.6" cy="545.4" r="2.6" stroke="#000" stroke-width="0" fill="#000"/>
<circle cx="777.0" cy="545.4" r="2.6" stroke="#000" stroke-width="0" fill="#000"/>
<circle cx="818.0" cy="545.4" r="2.6" stroke="#000" stroke-width="0" fill="#000"/>
<circle cx="860.0" cy="545.4" r="2.6" stroke="#000" stroke-width="0" fill="#000"/>
<circle cx="900.0" cy="545.4" r="2.6" stroke="#000" stroke-width="0" fill="#000"/>
<circle cx="667.5" cy="523.0" r="1.2" stroke="#000" stroke-width="0" fill="#000"/>
<circle cx="667.5" cy="535.0" r="1.2" stroke="#000" stroke-width="0" fill="#000"/>
<circle cx="667.5" cy="546.0" r="1.2" stroke="#000" stroke-width="0" fill="#000"/>
<circle cx="679.0" cy="527.5" r="1.2" stroke="#000" stroke-width="0" fill="#000"/>
<circle cx="679.0" cy="547.0" r="1.2" stroke="#000" stroke-width="0" fill="#000"/>
<circle cx="710.0" cy="527.5" r="1.2" stroke="#000" stroke-width="0" fill="#000"/>
<circle cx="710.0" cy="547.0" r="1.2" stroke="#000" stroke-width="0" fill="#000"/>
<circle cx="886.0" cy="527.5" r="1.2" stroke="#000" stroke-width="0" fill="#000"/>
<circle cx="886.0" cy="547.0" r="1.2" stroke="#000" stroke-width="0" fill="#000"/>
<circle cx="917.0" cy="527.5" r="1.2" stroke="#000" stroke-width="0" fill="#000"/>
<circle cx="917.0" cy="547.0" r="1.2" stroke="#000" stroke-width="0" fill="#000"/>
<circle cx="928.5" cy="523.0" r="1.2" stroke="#000" stroke-width="0" fill="#000"/>
<circle cx="928.5" cy="535.0" r="1.2" stroke="#000" stroke-width="0" fill="#000"/>
<circle cx="928.5" cy="546.0" r="1.2" stroke="#000" stroke-width="0" fill="#000"/>
<line x1="702.6" y1="509.0" x2="702.6" y2="566.0" stroke="#000" stroke-width="1.5"/>
<line x1="892.1" y1="509.0" x2="892.1" y2="566.0" stroke="#000" stroke-width="1.5"/>
<line x1="696.9" y1="509.0" x2="696.9" y2="583.0" stroke="#000" stroke-width="1.5"/>
<line x1="899.0" y1="509.0" x2="899.0" y2="583.0" stroke="#000" stroke-width="1.5"/>
<line x1="702.6" y1="562.0" x2="791.0" y2="562.0" stroke="#000" stroke-width="2.0"/>
<line x1="804.0" y1="562.0" x2="892.1" y2="562.0" stroke="#000" stroke-width="2.0"/>
<polygon points="702.6,562.0 716.6,559.4 716.6,564.6" fill="#000"/>
<polygon points="892.1,562.0 878.1,564.6 878.1,559.4" fill="#000"/>
<text x="797.5" y="566.1" font-size="11.5" text-anchor="middle" font-weight="bold">T</text>
<line x1="696.9" y1="579.2" x2="790.0" y2="579.2" stroke="#000" stroke-width="2.0"/>
<line x1="804.0" y1="579.2" x2="899.0" y2="579.2" stroke="#000" stroke-width="2.0"/>
<polygon points="696.9,579.2 710.9,576.6 710.9,581.8" fill="#000"/>
<polygon points="899.0,579.2 885.0,581.8 885.0,576.6" fill="#000"/>
<text x="797.0" y="583.3" font-size="11.5" text-anchor="middle" font-weight="bold">K</text>
<line x1="873.9" y1="131.9" x2="856.9" y2="131.9" stroke="#000" stroke-width="2.0"/>
<line x1="856.9" y1="131.9" x2="799.5" y2="295.5" stroke="#000" stroke-width="2.0"/>
<polygon points="799.5,295.5 800.6,281.3 805.6,282.7" fill="#000"/>
<text x="877.7" y="136.8" font-size="11" textLength="59.5" lengthAdjust="spacingAndGlyphs" font-weight="bold">SHAFT DIA.</text>
<line x1="668.0" y1="57.0" x2="641.0" y2="160.0" stroke="#000" stroke-width="2.0"/>
<polygon points="641.0,160.0 641.2,145.8 646.3,146.8" fill="#000"/>
<ellipse cx="671.5" cy="56.5" rx="3" ry="3.6" fill="#000"/>
<text x="675.5" y="60.4" font-size="11" textLength="40.0" lengthAdjust="spacingAndGlyphs" font-weight="bold">OUTLET</text>
<line x1="725.5" y1="109.1" x2="712.7" y2="109.1" stroke="#000" stroke-width="2.0"/>
<line x1="712.7" y1="109.1" x2="665.5" y2="171.0" stroke="#000" stroke-width="2.0"/>
<polygon points="665.5,171.0 668.6,163.3 672.1,166.0" fill="#000"/>
<text x="747.0" y="90.1" font-size="10.5" textLength="57.3" lengthAdjust="spacingAndGlyphs" font-weight="bold">DISCHARGE</text>
<text x="753.3" y="103.7" font-size="10.5" textLength="45.7" lengthAdjust="spacingAndGlyphs" font-weight="bold">ADAPTER</text>
<text x="727.0" y="117.2" font-size="10.5" textLength="96.6" lengthAdjust="spacingAndGlyphs" font-weight="bold">BI-24,30,36 ONLY</text>
<rect x="67.9" y="689.5" width="284.3" height="28.3" stroke="#000" stroke-width="2.2" fill="none"/>
<line x1="67.9" y1="695.5" x2="352.2" y2="695.5" stroke="#000" stroke-width="2.2"/>
<line x1="71.0" y1="695.5" x2="71.0" y2="717.8" stroke="#8a8a8a" stroke-width="1"/>
<line x1="349.1" y1="695.5" x2="349.1" y2="717.8" stroke="#8a8a8a" stroke-width="1"/>
<circle cx="85.6" cy="705.8" r="4.3" stroke="#000" stroke-width="1.8" fill="none"/>
<circle cx="102.8" cy="705.8" r="4.3" stroke="#000" stroke-width="1.8" fill="none"/>
<circle cx="317.2" cy="705.8" r="4.3" stroke="#000" stroke-width="1.8" fill="none"/>
<circle cx="333.8" cy="705.8" r="4.3" stroke="#000" stroke-width="1.8" fill="none"/>
<rect x="114.8" y="698.9" width="47.4" height="12.9" stroke="#000" stroke-width="2" fill="none"/>
<rect x="257.6" y="698.9" width="47.3" height="12.9" stroke="#000" stroke-width="2" fill="none"/>
<circle cx="94.1" cy="713.0" r="2.2" stroke="#000" stroke-width="0" fill="#000"/>
<circle cx="172.2" cy="713.0" r="2.2" stroke="#000" stroke-width="0" fill="#000"/>
<circle cx="210.7" cy="713.0" r="2.2" stroke="#000" stroke-width="0" fill="#000"/>
<circle cx="248.9" cy="713.0" r="2.2" stroke="#000" stroke-width="0" fill="#000"/>
<circle cx="325.9" cy="713.0" r="2.2" stroke="#000" stroke-width="0" fill="#000"/>
<circle cx="78.9" cy="714.0" r="1.3" stroke="#000" stroke-width="0" fill="#000"/>
<circle cx="111.9" cy="714.0" r="1.3" stroke="#000" stroke-width="0" fill="#000"/>
<circle cx="163.9" cy="714.0" r="1.3" stroke="#000" stroke-width="0" fill="#000"/>
<circle cx="254.9" cy="714.0" r="1.3" stroke="#000" stroke-width="0" fill="#000"/>
<circle cx="306.9" cy="714.0" r="1.3" stroke="#000" stroke-width="0" fill="#000"/>
<circle cx="340.9" cy="714.0" r="1.3" stroke="#000" stroke-width="0" fill="#000"/>
<path d="M180.2,695.5 L180.2,682.0 L184.9,682.0" stroke="#000" stroke-width="1.8" fill="none"/>
<rect x="126.5" y="648.3" width="5.6" height="2.8" fill="#000"/>
<rect x="127.5" y="650.6" width="3.6" height="2.0" fill="#000"/>
<ellipse cx="129.3" cy="654.5" rx="3.4" ry="2.5" fill="#000"/>
<rect x="127.8" y="656.6" width="3.0" height="4.0" fill="#000"/>
<rect x="121.5" y="660.1" width="16.0" height="4.7" fill="#000"/>
<polygon points="118.3,664.8 140.8,664.8 141.8,673.6 143.5,674.6 143.5,678.1 141.8,678.6 141.8,681.1 117.3,681.1 117.3,678.6 115.3,678.1 115.3,674.6 116.8,673.6" stroke="#000" stroke-width="0" fill="#000"/>
<rect x="125.5" y="669.6" width="7.5" height="8.5" fill="#fff"/>
<line x1="122.8" y1="666.5" x2="136.1" y2="666.5" stroke="#8a8a8a" stroke-width="1.4"/>
<path d="M121.8,676.6 Q122.3,680.4 129.3,680.4 Q136.3,680.4 136.8,676.6" stroke="#8a8a8a" stroke-width="1.3" fill="none"/>
<rect x="111.8" y="680.8" width="36.9" height="3.6" fill="#000"/>
<rect x="112.7" y="683.1" width="35.1" height="5.6" stroke="#000" stroke-width="1.8" fill="none"/>
<rect x="210.9" y="648.3" width="5.6" height="2.8" fill="#000"/>
<rect x="211.9" y="650.6" width="3.6" height="2.0" fill="#000"/>
<ellipse cx="213.7" cy="654.5" rx="3.4" ry="2.5" fill="#000"/>
<rect x="212.2" y="656.6" width="3.0" height="4.0" fill="#000"/>
<rect x="205.9" y="660.1" width="16.0" height="4.7" fill="#000"/>
<polygon points="202.7,664.8 225.2,664.8 226.2,673.6 227.9,674.6 227.9,678.1 226.2,678.6 226.2,681.1 201.7,681.1 201.7,678.6 199.7,678.1 199.7,674.6 201.2,673.6" stroke="#000" stroke-width="0" fill="#000"/>
<rect x="209.9" y="669.6" width="7.5" height="8.5" fill="#fff"/>
<line x1="207.2" y1="666.5" x2="220.5" y2="666.5" stroke="#8a8a8a" stroke-width="1.4"/>
<path d="M206.2,676.6 Q206.7,680.4 213.7,680.4 Q220.7,680.4 221.2,676.6" stroke="#8a8a8a" stroke-width="1.3" fill="none"/>
<rect x="196.2" y="680.8" width="36.9" height="3.6" fill="#000"/>
<rect x="197.1" y="683.1" width="35.1" height="5.6" stroke="#000" stroke-width="1.8" fill="none"/>
<rect x="304.8" y="648.3" width="5.6" height="2.8" fill="#000"/>
<rect x="305.8" y="650.6" width="3.6" height="2.0" fill="#000"/>
<ellipse cx="307.6" cy="654.5" rx="3.4" ry="2.5" fill="#000"/>
<rect x="306.1" y="656.6" width="3.0" height="4.0" fill="#000"/>
<rect x="299.8" y="660.1" width="16.0" height="4.7" fill="#000"/>
<polygon points="296.6,664.8 319.1,664.8 320.1,673.6 321.8,674.6 321.8,678.1 320.1,678.6 320.1,681.1 295.6,681.1 295.6,678.6 293.6,678.1 293.6,674.6 295.1,673.6" stroke="#000" stroke-width="0" fill="#000"/>
<rect x="303.8" y="669.6" width="7.5" height="8.5" fill="#fff"/>
<line x1="301.1" y1="666.5" x2="314.4" y2="666.5" stroke="#8a8a8a" stroke-width="1.4"/>
<path d="M300.1,676.6 Q300.6,680.4 307.6,680.4 Q314.6,680.4 315.1,676.6" stroke="#8a8a8a" stroke-width="1.3" fill="none"/>
<rect x="290.1" y="680.8" width="36.9" height="3.6" fill="#000"/>
<rect x="291.0" y="683.1" width="35.1" height="5.6" stroke="#000" stroke-width="1.8" fill="none"/>
<line x1="315.7" y1="660.6" x2="368.0" y2="660.6" stroke="#000" stroke-width="2.0"/>
<line x1="352.0" y1="716.8" x2="368.0" y2="716.8" stroke="#000" stroke-width="2.0"/>
<line x1="365.1" y1="660.6" x2="365.1" y2="716.8" stroke="#000" stroke-width="2.0"/>
<polygon points="365.1,660.6 367.7,674.6 362.5,674.6" fill="#000"/>
<polygon points="365.1,716.8 362.5,702.8 367.7,702.8" fill="#000"/>
<path d="M365.1,660.6 L365.1,647.5 L380,647.5" stroke="#000" stroke-width="2.0" fill="none"/>
<text x="384.3" y="651.6" font-size="11.5" textLength="13.1" lengthAdjust="spacingAndGlyphs" font-weight="bold">HH</text>
<line x1="67.9" y1="717.8" x2="67.9" y2="733.0" stroke="#000" stroke-width="2.0"/>
<line x1="352.0" y1="717.8" x2="352.0" y2="733.0" stroke="#000" stroke-width="2.0"/>
<line x1="67.9" y1="729.4" x2="201.0" y2="729.4" stroke="#000" stroke-width="2.0"/>
<line x1="222.0" y1="729.4" x2="352.0" y2="729.4" stroke="#000" stroke-width="2.0"/>
<polygon points="67.9,729.4 81.9,726.8 81.9,732.0" fill="#000"/>
<polygon points="352.0,729.4 338.0,732.0 338.0,726.8" fill="#000"/>
<text x="211.6" y="733.5" font-size="11.5" text-anchor="middle" textLength="16.4" lengthAdjust="spacingAndGlyphs" font-weight="bold">FF</text>
<line x1="699.5" y1="687.0" x2="922.7" y2="687.0" stroke="#8a8a8a" stroke-width="2.6"/>
<line x1="699.5" y1="689.5" x2="699.5" y2="720.7" stroke="#000" stroke-width="2"/>
<line x1="922.7" y1="689.5" x2="922.7" y2="720.7" stroke="#000" stroke-width="2"/>
<line x1="698.5" y1="720.7" x2="923.7" y2="720.7" stroke="#000" stroke-width="2.2"/>
<line x1="699.5" y1="695.0" x2="922.7" y2="695.0" stroke="#000" stroke-width="2.6"/>
<circle cx="719.4" cy="710.6" r="4.6" stroke="#000" stroke-width="1.8" fill="none"/>
<circle cx="735.5" cy="710.6" r="4.6" stroke="#000" stroke-width="1.8" fill="none"/>
<circle cx="886.9" cy="710.6" r="4.6" stroke="#000" stroke-width="1.8" fill="none"/>
<circle cx="902.5" cy="710.6" r="4.6" stroke="#000" stroke-width="1.8" fill="none"/>
<circle cx="727.7" cy="717.3" r="2.4" stroke="#000" stroke-width="0" fill="#000"/>
<circle cx="761.5" cy="717.3" r="2.4" stroke="#000" stroke-width="0" fill="#000"/>
<circle cx="794.7" cy="717.3" r="2.4" stroke="#000" stroke-width="0" fill="#000"/>
<circle cx="828.0" cy="717.3" r="2.4" stroke="#000" stroke-width="0" fill="#000"/>
<circle cx="861.2" cy="717.3" r="2.4" stroke="#000" stroke-width="0" fill="#000"/>
<circle cx="894.5" cy="717.3" r="2.4" stroke="#000" stroke-width="0" fill="#000"/>
<line x1="703.8" y1="700.5" x2="706.2" y2="700.5" stroke="#8a8a8a" stroke-width="0.8"/>
<line x1="705.0" y1="699.3" x2="705.0" y2="701.7" stroke="#8a8a8a" stroke-width="0.8"/>
<line x1="703.8" y1="709.0" x2="706.2" y2="709.0" stroke="#8a8a8a" stroke-width="0.8"/>
<line x1="705.0" y1="707.8" x2="705.0" y2="710.2" stroke="#8a8a8a" stroke-width="0.8"/>
<line x1="703.8" y1="717.0" x2="706.2" y2="717.0" stroke="#8a8a8a" stroke-width="0.8"/>
<line x1="705.0" y1="715.8" x2="705.0" y2="718.2" stroke="#8a8a8a" stroke-width="0.8"/>
<line x1="713.3" y1="702.0" x2="715.7" y2="702.0" stroke="#8a8a8a" stroke-width="0.8"/>
<line x1="714.5" y1="700.8" x2="714.5" y2="703.2" stroke="#8a8a8a" stroke-width="0.8"/>
<line x1="739.8" y1="702.0" x2="742.2" y2="702.0" stroke="#8a8a8a" stroke-width="0.8"/>
<line x1="741.0" y1="700.8" x2="741.0" y2="703.2" stroke="#8a8a8a" stroke-width="0.8"/>
<line x1="713.3" y1="718.0" x2="715.7" y2="718.0" stroke="#8a8a8a" stroke-width="0.8"/>
<line x1="714.5" y1="716.8" x2="714.5" y2="719.2" stroke="#8a8a8a" stroke-width="0.8"/>
<line x1="739.8" y1="718.0" x2="742.2" y2="718.0" stroke="#8a8a8a" stroke-width="0.8"/>
<line x1="741.0" y1="716.8" x2="741.0" y2="719.2" stroke="#8a8a8a" stroke-width="0.8"/>
<line x1="880.8" y1="702.0" x2="883.2" y2="702.0" stroke="#8a8a8a" stroke-width="0.8"/>
<line x1="882.0" y1="700.8" x2="882.0" y2="703.2" stroke="#8a8a8a" stroke-width="0.8"/>
<line x1="906.8" y1="702.0" x2="909.2" y2="702.0" stroke="#8a8a8a" stroke-width="0.8"/>
<line x1="908.0" y1="700.8" x2="908.0" y2="703.2" stroke="#8a8a8a" stroke-width="0.8"/>
<line x1="880.8" y1="718.0" x2="883.2" y2="718.0" stroke="#8a8a8a" stroke-width="0.8"/>
<line x1="882.0" y1="716.8" x2="882.0" y2="719.2" stroke="#8a8a8a" stroke-width="0.8"/>
<line x1="906.8" y1="718.0" x2="909.2" y2="718.0" stroke="#8a8a8a" stroke-width="0.8"/>
<line x1="908.0" y1="716.8" x2="908.0" y2="719.2" stroke="#8a8a8a" stroke-width="0.8"/>
<line x1="915.8" y1="700.5" x2="918.2" y2="700.5" stroke="#8a8a8a" stroke-width="0.8"/>
<line x1="917.0" y1="699.3" x2="917.0" y2="701.7" stroke="#8a8a8a" stroke-width="0.8"/>
<line x1="915.8" y1="709.0" x2="918.2" y2="709.0" stroke="#8a8a8a" stroke-width="0.8"/>
<line x1="917.0" y1="707.8" x2="917.0" y2="710.2" stroke="#8a8a8a" stroke-width="0.8"/>
<line x1="915.8" y1="717.0" x2="918.2" y2="717.0" stroke="#8a8a8a" stroke-width="0.8"/>
<line x1="917.0" y1="715.8" x2="917.0" y2="718.2" stroke="#8a8a8a" stroke-width="0.8"/>
<rect x="731.8" y="655.9" width="5.1" height="2.5" fill="#000"/>
<rect x="732.8" y="658.3" width="3.2" height="1.3" fill="#000"/>
<ellipse cx="734.1" cy="661.3" rx="2.8" ry="2.4" fill="#000"/>
<rect x="733.0" y="663.1" width="2.7" height="3.2" fill="#000"/>
<rect x="728.9" y="666.7" width="11.0" height="12.9" stroke="#000" stroke-width="2" fill="none"/>
<line x1="728.9" y1="668.8" x2="739.9" y2="668.8" stroke="#000" stroke-width="1.5"/>
<rect x="732.4" y="671.7" width="3.6" height="7.2" fill="#000"/>
<rect x="728.0" y="679.6" width="12.8" height="1.1" fill="#888"/>
<rect x="728.0" y="680.8" width="12.8" height="5.7" fill="#000"/>
<rect x="729.9" y="682.9" width="3.1" height="1.4" fill="#fff"/>
<rect x="735.8" y="682.9" width="3.1" height="1.4" fill="#fff"/>
<rect x="885.0" y="655.9" width="5.1" height="2.5" fill="#000"/>
<rect x="886.0" y="658.3" width="3.2" height="1.3" fill="#000"/>
<ellipse cx="887.3" cy="661.3" rx="2.8" ry="2.4" fill="#000"/>
<rect x="886.2" y="663.1" width="2.7" height="3.2" fill="#000"/>
<rect x="882.1" y="666.7" width="11.0" height="12.9" stroke="#000" stroke-width="2" fill="none"/>
<line x1="882.1" y1="668.8" x2="893.1" y2="668.8" stroke="#000" stroke-width="1.5"/>
<rect x="885.6" y="671.7" width="3.6" height="7.2" fill="#000"/>
<rect x="881.2" y="679.6" width="12.8" height="1.1" fill="#888"/>
<rect x="881.2" y="680.8" width="12.8" height="5.7" fill="#000"/>
<rect x="883.1" y="682.9" width="3.1" height="1.4" fill="#fff"/>
<rect x="889.0" y="682.9" width="3.1" height="1.4" fill="#fff"/>
<line x1="699.5" y1="720.7" x2="699.5" y2="735.0" stroke="#000" stroke-width="2.0"/>
<line x1="922.7" y1="720.7" x2="922.7" y2="735.0" stroke="#000" stroke-width="2.0"/>
<line x1="699.5" y1="731.7" x2="801.0" y2="731.7" stroke="#000" stroke-width="2.0"/>
<line x1="818.0" y1="731.7" x2="922.7" y2="731.7" stroke="#000" stroke-width="2.0"/>
<polygon points="699.5,731.7 713.5,729.1 713.5,734.3" fill="#000"/>
<polygon points="922.7,731.7 908.7,734.3 908.7,729.1" fill="#000"/>
<text x="809.5" y="735.8" font-size="11.5" text-anchor="middle" font-weight="bold">V</text>
<line x1="707.1" y1="774.2" x2="913.8" y2="774.2" stroke="#555" stroke-width="2.4"/>
<line x1="707.1" y1="773.0" x2="707.1" y2="871.0" stroke="#000" stroke-width="2.2"/>
<line x1="913.8" y1="773.0" x2="913.8" y2="871.0" stroke="#000" stroke-width="2.2"/>
<line x1="712.0" y1="775.0" x2="712.0" y2="870.0" stroke="#000" stroke-width="2.0"/>
<line x1="908.0" y1="775.0" x2="908.0" y2="870.0" stroke="#000" stroke-width="2.0"/>
<line x1="692.7" y1="871.0" x2="712.0" y2="871.0" stroke="#000" stroke-width="2.4"/>
<line x1="712.0" y1="871.0" x2="908.0" y2="871.0" stroke="#555" stroke-width="2.4"/>
<line x1="908.0" y1="871.0" x2="929.3" y2="871.0" stroke="#000" stroke-width="2.4"/>
<line x1="707.1" y1="871.0" x2="707.1" y2="892.0" stroke="#000" stroke-width="2.0"/>
<line x1="913.8" y1="871.0" x2="913.8" y2="892.0" stroke="#000" stroke-width="2.0"/>
<line x1="707.1" y1="888.5" x2="800.0" y2="888.5" stroke="#000" stroke-width="2.0"/>
<line x1="820.0" y1="888.5" x2="913.8" y2="888.5" stroke="#000" stroke-width="2.0"/>
<polygon points="707.1,888.5 721.1,885.9 721.1,891.1" fill="#000"/>
<polygon points="913.8,888.5 899.8,891.1 899.8,885.9" fill="#000"/>
<text x="810.0" y="892.6" font-size="11.5" text-anchor="middle" textLength="12.7" lengthAdjust="spacingAndGlyphs" font-weight="bold">MM</text>
<path d="M946,751.7 L930,751.7 L912.8,773" stroke="#000" stroke-width="2.0" fill="none"/>
<polygon points="912.8,773.5 919.4,760.9 923.5,764.1" fill="#000"/>
<line x1="80.9" y1="772.7" x2="333.0" y2="772.7" stroke="#000" stroke-width="2.6"/>
<line x1="80.9" y1="772.7" x2="80.9" y2="893.0" stroke="#000" stroke-width="2"/>
<line x1="333.0" y1="772.7" x2="333.0" y2="893.0" stroke="#000" stroke-width="2"/>
<line x1="65.8" y1="869.6" x2="348.6" y2="869.6" stroke="#000" stroke-width="2.6"/>
<line x1="333.0" y1="772.7" x2="375.8" y2="772.7" stroke="#000" stroke-width="2.0"/>
<line x1="348.6" y1="869.6" x2="375.8" y2="869.6" stroke="#000" stroke-width="2.0"/>
<line x1="373.5" y1="772.7" x2="373.5" y2="813.0" stroke="#000" stroke-width="2.0"/>
<line x1="373.5" y1="830.0" x2="373.5" y2="869.6" stroke="#000" stroke-width="2.0"/>
<polygon points="373.5,772.7 376.1,786.7 370.9,786.7" fill="#000"/>
<polygon points="373.5,869.6 370.9,855.6 376.1,855.6" fill="#000"/>
<text x="373.5" y="825.5" font-size="11.5" text-anchor="middle" textLength="10.0" lengthAdjust="spacingAndGlyphs" font-weight="bold">JJ</text>
<line x1="80.9" y1="890.2" x2="196.0" y2="890.2" stroke="#000" stroke-width="2.0"/>
<line x1="220.0" y1="890.2" x2="333.0" y2="890.2" stroke="#000" stroke-width="2.0"/>
<polygon points="80.9,890.2 94.9,887.6 94.9,892.8" fill="#000"/>
<polygon points="333.0,890.2 319.0,892.8 319.0,887.6" fill="#000"/>
<text x="207.7" y="894.3" font-size="11.5" text-anchor="middle" textLength="12.6" lengthAdjust="spacingAndGlyphs" font-weight="bold">GG</text>
</svg>
</body></html>
